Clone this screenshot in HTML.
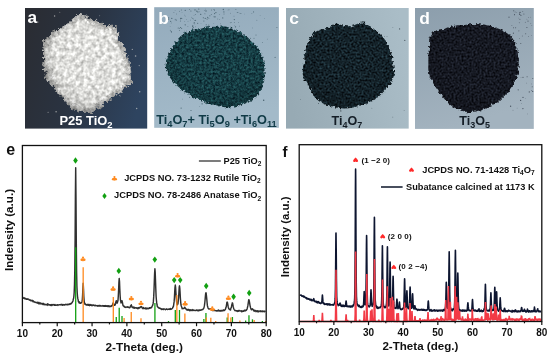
<!DOCTYPE html>
<html><head><meta charset="utf-8"><style>
html,body{margin:0;padding:0;background:#fff;}
body{width:550px;height:358px;overflow:hidden;position:relative;font-family:"Liberation Sans", sans-serif;}
svg{position:absolute;left:0;top:0;will-change:transform;}
</style></head><body>
<svg width="550" height="358" viewBox="0 0 550 358" font-family='"Liberation Sans", sans-serif'>
<defs>
 <filter id="texA" x="-5%" y="-5%" width="110%" height="110%" color-interpolation-filters="sRGB">
  <feTurbulence type="fractalNoise" baseFrequency="0.25" numOctaves="3" seed="2" result="t"/>
  <feColorMatrix in="t" type="matrix" values="0.6 0 0 0 0.5784  0.6 0 0 0 0.5784  0.6 0 0 0 0.5667  0 0 0 0 1" result="c"/>
  <feComposite in="c" in2="SourceAlpha" operator="in"/>
</filter>
<filter id="texB" x="-5%" y="-5%" width="110%" height="110%" color-interpolation-filters="sRGB">
  <feTurbulence type="fractalNoise" baseFrequency="0.45" numOctaves="2" seed="5" result="t"/>
  <feColorMatrix in="t" type="matrix" values="0.22 0 0 0 -0.0237  0.45 0 0 0 0.0142  0.42 0 0 0 0.0567  0 0 0 0 1" result="c"/>
  <feComposite in="c" in2="SourceAlpha" operator="in"/>
</filter>
<filter id="texC" x="-5%" y="-5%" width="110%" height="110%" color-interpolation-filters="sRGB">
  <feTurbulence type="fractalNoise" baseFrequency="0.5" numOctaves="2" seed="7" result="t"/>
  <feColorMatrix in="t" type="matrix" values="0.25 0 0 0 -0.0466  0.4 0 0 0 -0.0667  0.45 0 0 0 -0.0642  0 0 0 0 1" result="c"/>
  <feComposite in="c" in2="SourceAlpha" operator="in"/>
</filter>
<filter id="texD" x="-5%" y="-5%" width="110%" height="110%" color-interpolation-filters="sRGB">
  <feTurbulence type="fractalNoise" baseFrequency="0.5" numOctaves="2" seed="9" result="t"/>
  <feColorMatrix in="t" type="matrix" values="0.25 0 0 0 -0.0387  0.28 0 0 0 -0.0420  0.34 0 0 0 -0.0367  0 0 0 0 1" result="c"/>
  <feComposite in="c" in2="SourceAlpha" operator="in"/>
</filter>
<filter id="texBgA" x="-5%" y="-5%" width="110%" height="110%" color-interpolation-filters="sRGB">
  <feTurbulence type="fractalNoise" baseFrequency="0.05" numOctaves="2" seed="11" result="t"/>
  <feColorMatrix in="t" type="matrix" values="0.15 0 0 0 0.0975  0.15 0 0 0 0.1211  0.18 0 0 0 0.1531  0 0 0 0 1" result="c"/>
  <feComposite in="c" in2="SourceAlpha" operator="in"/>
</filter>
<filter id="roughA" x="-10%" y="-10%" width="120%" height="120%" color-interpolation-filters="sRGB">
  <feTurbulence type="fractalNoise" baseFrequency="0.12" numOctaves="2" seed="24" result="ln"/>
  <feDisplacementMap in="SourceGraphic" in2="ln" scale="9" xChannelSelector="R" yChannelSelector="G" result="d1"/>
  <feTurbulence type="fractalNoise" baseFrequency="0.45" numOctaves="3" seed="4" result="n"/>
  <feDisplacementMap in="d1" in2="n" scale="5" xChannelSelector="R" yChannelSelector="G"/>
</filter>
<filter id="roughB" x="-10%" y="-10%" width="120%" height="120%" color-interpolation-filters="sRGB">
  <feTurbulence type="fractalNoise" baseFrequency="0.35" numOctaves="3" seed="6" result="n"/>
  <feDisplacementMap in="SourceGraphic" in2="n" scale="5" xChannelSelector="R" yChannelSelector="G"/>
</filter>
<filter id="roughC" x="-10%" y="-10%" width="120%" height="120%" color-interpolation-filters="sRGB">
  <feTurbulence type="fractalNoise" baseFrequency="0.35" numOctaves="3" seed="8" result="n"/>
  <feDisplacementMap in="SourceGraphic" in2="n" scale="5" xChannelSelector="R" yChannelSelector="G"/>
</filter>
<filter id="roughD" x="-10%" y="-10%" width="120%" height="120%" color-interpolation-filters="sRGB">
  <feTurbulence type="fractalNoise" baseFrequency="0.35" numOctaves="3" seed="10" result="n"/>
  <feDisplacementMap in="SourceGraphic" in2="n" scale="5" xChannelSelector="R" yChannelSelector="G"/>
</filter>
<linearGradient id="bgA" x1="0" y1="0.3" x2="1" y2="0.6"><stop offset="0" stop-color="#2a2d34"/><stop offset="0.45" stop-color="#2a3341"/><stop offset="1" stop-color="#2e4460"/></linearGradient>
<linearGradient id="bgB" x1="0" y1="0" x2="0.2" y2="1"><stop offset="0" stop-color="#94abbc"/><stop offset="1" stop-color="#a3bac9"/></linearGradient>
<linearGradient id="bgC" x1="0" y1="0.6" x2="1" y2="0.4"><stop offset="0" stop-color="#97aab4"/><stop offset="1" stop-color="#aabdc7"/></linearGradient>
<linearGradient id="bgD" x1="0" y1="0" x2="0.3" y2="1"><stop offset="0" stop-color="#8c9eac"/><stop offset="1" stop-color="#a3b3bf"/></linearGradient>
<filter id="blur2" x="-10%" y="-10%" width="120%" height="120%"><feGaussianBlur stdDeviation="1.8"/></filter>
<radialGradient id="shA" cx="0.6" cy="0.35" r="0.7"><stop offset="0.6" stop-color="#000" stop-opacity="0"/><stop offset="1" stop-color="#000" stop-opacity="0.15"/></radialGradient>
<radialGradient id="shDark" cx="0.55" cy="0.4" r="0.7"><stop offset="0.55" stop-color="#000" stop-opacity="0"/><stop offset="1" stop-color="#000" stop-opacity="0.18"/></radialGradient>
</defs>
<rect x="25" y="8" width="122.2" height="120.6" fill="url(#bgA)"/>
<clipPath id="clipA"><rect x="25" y="8" width="122.2" height="120.6"/></clipPath>
<g clip-path="url(#clipA)">
<g fill="#cfcfcd" opacity="0.7"><circle cx="52.3" cy="86.5" r="0.62"/><circle cx="85.3" cy="35.3" r="0.70"/><circle cx="119.8" cy="67.3" r="0.55"/><circle cx="59.8" cy="12.3" r="0.49"/><circle cx="96.5" cy="19.5" r="0.70"/><circle cx="59.4" cy="37.1" r="0.32"/><circle cx="139.7" cy="91.8" r="0.74"/><circle cx="99.7" cy="15.7" r="0.46"/><circle cx="87.2" cy="24.5" r="0.78"/><circle cx="73.7" cy="28.7" r="0.71"/><circle cx="48.1" cy="112.2" r="0.53"/><circle cx="93.0" cy="49.0" r="0.54"/><circle cx="54.6" cy="16.0" r="0.73"/><circle cx="59.7" cy="96.3" r="0.40"/><circle cx="136.7" cy="108.5" r="0.68"/><circle cx="115.1" cy="74.7" r="0.66"/><circle cx="47.9" cy="63.4" r="0.71"/><circle cx="56.1" cy="111.7" r="0.74"/><circle cx="78.0" cy="51.4" r="0.53"/><circle cx="75.5" cy="119.4" r="0.49"/><circle cx="37.8" cy="22.1" r="0.66"/><circle cx="139.2" cy="65.6" r="0.55"/><circle cx="92.8" cy="92.8" r="0.41"/><circle cx="98.9" cy="72.1" r="0.61"/><circle cx="54.0" cy="30.4" r="0.47"/><circle cx="132.3" cy="49.4" r="0.60"/><circle cx="67.2" cy="23.2" r="0.33"/><circle cx="120.4" cy="95.9" r="0.49"/><circle cx="106.8" cy="85.0" r="0.75"/><circle cx="135.6" cy="56.0" r="0.79"/></g>
<clipPath id="pileA"><path d="M82.0,15.0 C84.8,14.8 87.8,16.2 90.0,17.0 C92.2,17.8 93.0,18.8 95.0,20.0 C97.0,21.2 99.5,23.2 101.8,24.2 C104.0,25.2 106.4,25.6 108.5,25.9 C110.6,26.2 112.6,25.5 114.3,25.9 C116.0,26.3 117.7,26.9 118.5,28.4 C119.3,29.9 119.1,33.0 119.4,35.1 C119.7,37.2 119.5,39.3 120.2,41.0 C120.9,42.7 122.5,43.7 123.5,45.2 C124.5,46.7 125.4,48.2 126.1,50.2 C126.8,52.2 127.2,54.7 127.7,56.9 C128.2,59.1 128.5,61.1 128.9,63.6 C129.3,66.1 129.8,68.7 130.2,71.7 C130.6,74.7 131.2,79.6 131.1,81.8 C131.0,84.0 130.4,83.8 129.4,85.1 C128.4,86.3 127.0,87.9 125.2,89.3 C123.4,90.7 120.7,92.0 118.5,93.5 C116.3,95.0 113.8,97.0 111.8,98.5 C109.8,100.0 108.5,101.3 106.8,102.7 C105.1,104.1 103.5,105.7 101.8,106.9 C100.1,108.2 98.4,109.2 96.7,110.2 C95.0,111.2 93.7,112.4 91.7,112.8 C89.8,113.2 87.5,113.2 85.0,112.8 C82.5,112.4 79.2,111.2 76.9,110.2 C74.6,109.2 72.8,108.2 71.0,106.9 C69.2,105.7 67.5,104.1 66.0,102.7 C64.5,101.3 63.5,100.3 61.8,98.5 C60.1,96.7 57.8,94.0 56.0,91.8 C54.2,89.6 52.3,87.3 50.9,85.1 C49.5,82.9 48.6,80.6 47.6,78.4 C46.6,76.2 45.7,73.9 45.0,71.7 C44.3,69.5 43.5,66.9 43.4,65.0 C43.3,63.1 44.2,62.2 44.2,60.3 C44.2,58.4 43.7,55.8 43.4,53.6 C43.1,51.4 42.4,48.7 42.5,46.9 C42.6,45.1 43.2,44.2 44.2,42.7 C45.2,41.2 46.9,39.5 48.4,37.7 C49.9,35.9 51.7,33.4 53.4,31.8 C55.1,30.2 56.8,29.4 58.5,28.4 C60.2,27.4 61.8,26.9 63.5,25.9 C65.2,24.9 66.8,23.9 68.5,22.6 C70.2,21.4 71.2,19.7 73.5,18.4 C75.8,17.1 79.2,15.2 82.0,15.0 Z"/></clipPath>
<g filter="url(#texA)"><path d="M82.0,15.0 C84.8,14.8 87.8,16.2 90.0,17.0 C92.2,17.8 93.0,18.8 95.0,20.0 C97.0,21.2 99.5,23.2 101.8,24.2 C104.0,25.2 106.4,25.6 108.5,25.9 C110.6,26.2 112.6,25.5 114.3,25.9 C116.0,26.3 117.7,26.9 118.5,28.4 C119.3,29.9 119.1,33.0 119.4,35.1 C119.7,37.2 119.5,39.3 120.2,41.0 C120.9,42.7 122.5,43.7 123.5,45.2 C124.5,46.7 125.4,48.2 126.1,50.2 C126.8,52.2 127.2,54.7 127.7,56.9 C128.2,59.1 128.5,61.1 128.9,63.6 C129.3,66.1 129.8,68.7 130.2,71.7 C130.6,74.7 131.2,79.6 131.1,81.8 C131.0,84.0 130.4,83.8 129.4,85.1 C128.4,86.3 127.0,87.9 125.2,89.3 C123.4,90.7 120.7,92.0 118.5,93.5 C116.3,95.0 113.8,97.0 111.8,98.5 C109.8,100.0 108.5,101.3 106.8,102.7 C105.1,104.1 103.5,105.7 101.8,106.9 C100.1,108.2 98.4,109.2 96.7,110.2 C95.0,111.2 93.7,112.4 91.7,112.8 C89.8,113.2 87.5,113.2 85.0,112.8 C82.5,112.4 79.2,111.2 76.9,110.2 C74.6,109.2 72.8,108.2 71.0,106.9 C69.2,105.7 67.5,104.1 66.0,102.7 C64.5,101.3 63.5,100.3 61.8,98.5 C60.1,96.7 57.8,94.0 56.0,91.8 C54.2,89.6 52.3,87.3 50.9,85.1 C49.5,82.9 48.6,80.6 47.6,78.4 C46.6,76.2 45.7,73.9 45.0,71.7 C44.3,69.5 43.5,66.9 43.4,65.0 C43.3,63.1 44.2,62.2 44.2,60.3 C44.2,58.4 43.7,55.8 43.4,53.6 C43.1,51.4 42.4,48.7 42.5,46.9 C42.6,45.1 43.2,44.2 44.2,42.7 C45.2,41.2 46.9,39.5 48.4,37.7 C49.9,35.9 51.7,33.4 53.4,31.8 C55.1,30.2 56.8,29.4 58.5,28.4 C60.2,27.4 61.8,26.9 63.5,25.9 C65.2,24.9 66.8,23.9 68.5,22.6 C70.2,21.4 71.2,19.7 73.5,18.4 C75.8,17.1 79.2,15.2 82.0,15.0 Z" fill="#000" filter="url(#roughA)"/></g>
<g filter="url(#roughA)"><path d="M82.0,15.0 C84.8,14.8 87.8,16.2 90.0,17.0 C92.2,17.8 93.0,18.8 95.0,20.0 C97.0,21.2 99.5,23.2 101.8,24.2 C104.0,25.2 106.4,25.6 108.5,25.9 C110.6,26.2 112.6,25.5 114.3,25.9 C116.0,26.3 117.7,26.9 118.5,28.4 C119.3,29.9 119.1,33.0 119.4,35.1 C119.7,37.2 119.5,39.3 120.2,41.0 C120.9,42.7 122.5,43.7 123.5,45.2 C124.5,46.7 125.4,48.2 126.1,50.2 C126.8,52.2 127.2,54.7 127.7,56.9 C128.2,59.1 128.5,61.1 128.9,63.6 C129.3,66.1 129.8,68.7 130.2,71.7 C130.6,74.7 131.2,79.6 131.1,81.8 C131.0,84.0 130.4,83.8 129.4,85.1 C128.4,86.3 127.0,87.9 125.2,89.3 C123.4,90.7 120.7,92.0 118.5,93.5 C116.3,95.0 113.8,97.0 111.8,98.5 C109.8,100.0 108.5,101.3 106.8,102.7 C105.1,104.1 103.5,105.7 101.8,106.9 C100.1,108.2 98.4,109.2 96.7,110.2 C95.0,111.2 93.7,112.4 91.7,112.8 C89.8,113.2 87.5,113.2 85.0,112.8 C82.5,112.4 79.2,111.2 76.9,110.2 C74.6,109.2 72.8,108.2 71.0,106.9 C69.2,105.7 67.5,104.1 66.0,102.7 C64.5,101.3 63.5,100.3 61.8,98.5 C60.1,96.7 57.8,94.0 56.0,91.8 C54.2,89.6 52.3,87.3 50.9,85.1 C49.5,82.9 48.6,80.6 47.6,78.4 C46.6,76.2 45.7,73.9 45.0,71.7 C44.3,69.5 43.5,66.9 43.4,65.0 C43.3,63.1 44.2,62.2 44.2,60.3 C44.2,58.4 43.7,55.8 43.4,53.6 C43.1,51.4 42.4,48.7 42.5,46.9 C42.6,45.1 43.2,44.2 44.2,42.7 C45.2,41.2 46.9,39.5 48.4,37.7 C49.9,35.9 51.7,33.4 53.4,31.8 C55.1,30.2 56.8,29.4 58.5,28.4 C60.2,27.4 61.8,26.9 63.5,25.9 C65.2,24.9 66.8,23.9 68.5,22.6 C70.2,21.4 71.2,19.7 73.5,18.4 C75.8,17.1 79.2,15.2 82.0,15.0 Z" fill="url(#shA)"/><path d="M82.0,15.0 C84.8,14.8 87.8,16.2 90.0,17.0 C92.2,17.8 93.0,18.8 95.0,20.0 C97.0,21.2 99.5,23.2 101.8,24.2 C104.0,25.2 106.4,25.6 108.5,25.9 C110.6,26.2 112.6,25.5 114.3,25.9 C116.0,26.3 117.7,26.9 118.5,28.4 C119.3,29.9 119.1,33.0 119.4,35.1 C119.7,37.2 119.5,39.3 120.2,41.0 C120.9,42.7 122.5,43.7 123.5,45.2 C124.5,46.7 125.4,48.2 126.1,50.2 C126.8,52.2 127.2,54.7 127.7,56.9 C128.2,59.1 128.5,61.1 128.9,63.6 C129.3,66.1 129.8,68.7 130.2,71.7 C130.6,74.7 131.2,79.6 131.1,81.8 C131.0,84.0 130.4,83.8 129.4,85.1 C128.4,86.3 127.0,87.9 125.2,89.3 C123.4,90.7 120.7,92.0 118.5,93.5 C116.3,95.0 113.8,97.0 111.8,98.5 C109.8,100.0 108.5,101.3 106.8,102.7 C105.1,104.1 103.5,105.7 101.8,106.9 C100.1,108.2 98.4,109.2 96.7,110.2 C95.0,111.2 93.7,112.4 91.7,112.8 C89.8,113.2 87.5,113.2 85.0,112.8 C82.5,112.4 79.2,111.2 76.9,110.2 C74.6,109.2 72.8,108.2 71.0,106.9 C69.2,105.7 67.5,104.1 66.0,102.7 C64.5,101.3 63.5,100.3 61.8,98.5 C60.1,96.7 57.8,94.0 56.0,91.8 C54.2,89.6 52.3,87.3 50.9,85.1 C49.5,82.9 48.6,80.6 47.6,78.4 C46.6,76.2 45.7,73.9 45.0,71.7 C44.3,69.5 43.5,66.9 43.4,65.0 C43.3,63.1 44.2,62.2 44.2,60.3 C44.2,58.4 43.7,55.8 43.4,53.6 C43.1,51.4 42.4,48.7 42.5,46.9 C42.6,45.1 43.2,44.2 44.2,42.7 C45.2,41.2 46.9,39.5 48.4,37.7 C49.9,35.9 51.7,33.4 53.4,31.8 C55.1,30.2 56.8,29.4 58.5,28.4 C60.2,27.4 61.8,26.9 63.5,25.9 C65.2,24.9 66.8,23.9 68.5,22.6 C70.2,21.4 71.2,19.7 73.5,18.4 C75.8,17.1 79.2,15.2 82.0,15.0 Z" fill="none" stroke="#202020" stroke-opacity="0.28" stroke-width="7" clip-path="url(#pileA)" filter="url(#blur2)"/></g>
</g>
<rect x="154.2" y="7.2" width="124.7" height="120.6" fill="url(#bgB)"/>
<clipPath id="clipB"><rect x="154.2" y="7.2" width="124.7" height="120.6"/></clipPath>
<g clip-path="url(#clipB)">
<g fill="#3a5562" opacity="0.85"><circle cx="237.0" cy="12.2" r="0.31"/><circle cx="239.9" cy="13.2" r="0.34"/><circle cx="214.9" cy="16.9" r="0.61"/><circle cx="184.7" cy="31.1" r="0.41"/><circle cx="211.3" cy="30.4" r="0.54"/><circle cx="234.5" cy="25.3" r="0.32"/><circle cx="231.5" cy="22.6" r="0.41"/><circle cx="181.7" cy="28.5" r="0.50"/><circle cx="235.5" cy="26.8" r="0.64"/><circle cx="208.8" cy="25.1" r="0.51"/><circle cx="186.6" cy="31.0" r="0.41"/><circle cx="224.2" cy="31.0" r="0.53"/><circle cx="178.2" cy="28.0" r="0.53"/><circle cx="181.3" cy="10.1" r="0.49"/><circle cx="170.3" cy="30.3" r="0.48"/><circle cx="205.2" cy="18.4" r="0.53"/><circle cx="234.0" cy="16.1" r="0.43"/><circle cx="209.9" cy="15.8" r="0.51"/><circle cx="207.1" cy="19.0" r="0.54"/><circle cx="206.0" cy="11.0" r="0.65"/><circle cx="193.6" cy="18.9" r="0.44"/><circle cx="234.9" cy="30.9" r="0.48"/><circle cx="196.8" cy="11.2" r="0.61"/><circle cx="180.3" cy="21.6" r="0.42"/><circle cx="191.6" cy="17.2" r="0.37"/><circle cx="170.7" cy="21.3" r="0.58"/><circle cx="214.6" cy="13.6" r="0.54"/><circle cx="171.8" cy="18.4" r="0.59"/><circle cx="234.3" cy="19.6" r="0.60"/><circle cx="203.9" cy="21.1" r="0.50"/><circle cx="239.4" cy="26.1" r="0.47"/><circle cx="220.4" cy="23.8" r="0.42"/><circle cx="224.5" cy="27.9" r="0.51"/><circle cx="235.9" cy="9.4" r="0.48"/><circle cx="213.7" cy="16.8" r="0.36"/><circle cx="217.8" cy="19.0" r="0.39"/><circle cx="171.0" cy="31.2" r="0.42"/><circle cx="176.5" cy="14.0" r="0.39"/><circle cx="230.4" cy="13.2" r="0.40"/><circle cx="175.0" cy="19.8" r="0.37"/><circle cx="192.8" cy="25.9" r="0.62"/><circle cx="228.1" cy="9.9" r="0.43"/><circle cx="229.1" cy="9.8" r="0.37"/><circle cx="203.3" cy="17.8" r="0.56"/><circle cx="219.7" cy="19.7" r="0.39"/><circle cx="184.6" cy="15.1" r="0.32"/><circle cx="215.9" cy="12.6" r="0.61"/><circle cx="214.5" cy="10.3" r="0.47"/><circle cx="211.5" cy="10.0" r="0.47"/><circle cx="170.1" cy="26.6" r="0.30"/><circle cx="213.5" cy="31.7" r="0.60"/><circle cx="184.8" cy="21.3" r="0.35"/><circle cx="192.6" cy="28.9" r="0.59"/><circle cx="168.7" cy="17.7" r="0.52"/><circle cx="180.6" cy="27.5" r="0.61"/><circle cx="207.7" cy="17.3" r="0.60"/><circle cx="204.9" cy="13.3" r="0.40"/><circle cx="179.5" cy="28.3" r="0.48"/><circle cx="218.2" cy="27.8" r="0.64"/><circle cx="181.7" cy="18.3" r="0.61"/><circle cx="222.8" cy="17.9" r="0.53"/><circle cx="182.0" cy="12.7" r="0.32"/><circle cx="195.3" cy="14.4" r="0.48"/><circle cx="237.8" cy="12.5" r="0.50"/><circle cx="230.3" cy="22.8" r="0.48"/><circle cx="223.3" cy="9.5" r="0.63"/><circle cx="217.4" cy="27.6" r="0.59"/><circle cx="175.1" cy="10.5" r="0.36"/><circle cx="204.3" cy="30.6" r="0.62"/><circle cx="197.7" cy="23.3" r="0.56"/><circle cx="191.9" cy="31.3" r="0.63"/><circle cx="220.3" cy="29.7" r="0.58"/><circle cx="215.0" cy="16.4" r="0.40"/><circle cx="185.2" cy="10.3" r="0.62"/><circle cx="189.5" cy="9.5" r="0.41"/><circle cx="175.4" cy="19.2" r="0.42"/><circle cx="180.6" cy="20.0" r="0.45"/><circle cx="193.5" cy="27.7" r="0.41"/><circle cx="207.0" cy="29.2" r="0.64"/><circle cx="195.0" cy="9.9" r="0.63"/><circle cx="205.0" cy="14.0" r="0.34"/><circle cx="185.2" cy="16.1" r="0.35"/><circle cx="171.5" cy="31.9" r="0.59"/><circle cx="176.2" cy="20.1" r="0.58"/><circle cx="204.3" cy="10.6" r="0.42"/><circle cx="195.4" cy="30.0" r="0.50"/><circle cx="201.0" cy="23.5" r="0.32"/><circle cx="217.4" cy="27.6" r="0.53"/><circle cx="194.0" cy="15.6" r="0.30"/><circle cx="173.9" cy="12.6" r="0.46"/><circle cx="224.0" cy="14.0" r="0.47"/><circle cx="213.8" cy="23.5" r="0.31"/><circle cx="234.3" cy="22.5" r="0.41"/><circle cx="185.2" cy="24.8" r="0.63"/><circle cx="192.3" cy="18.2" r="0.49"/><circle cx="180.6" cy="18.3" r="0.62"/><circle cx="208.1" cy="27.9" r="0.39"/><circle cx="230.5" cy="27.0" r="0.38"/><circle cx="206.2" cy="24.7" r="0.50"/><circle cx="211.3" cy="14.5" r="0.49"/><circle cx="193.5" cy="27.4" r="0.43"/><circle cx="238.5" cy="22.4" r="0.38"/><circle cx="197.9" cy="11.9" r="0.56"/><circle cx="171.3" cy="22.9" r="0.41"/><circle cx="223.9" cy="11.9" r="0.54"/><circle cx="219.4" cy="14.4" r="0.35"/><circle cx="194.8" cy="23.9" r="0.39"/><circle cx="168.6" cy="19.2" r="0.58"/><circle cx="179.4" cy="30.6" r="0.48"/><circle cx="179.6" cy="11.3" r="0.43"/></g>
<g fill="#3a5562" opacity="0.8"><circle cx="204.5" cy="30.7" r="0.59"/><circle cx="190.9" cy="11.0" r="0.55"/><circle cx="195.0" cy="20.5" r="0.54"/><circle cx="190.5" cy="37.2" r="0.45"/><circle cx="187.1" cy="37.5" r="0.47"/><circle cx="187.4" cy="35.0" r="0.53"/><circle cx="207.2" cy="29.4" r="0.60"/><circle cx="185.4" cy="39.2" r="0.49"/><circle cx="192.6" cy="28.0" r="0.40"/><circle cx="204.5" cy="30.8" r="0.46"/><circle cx="188.0" cy="21.2" r="0.39"/><circle cx="207.5" cy="37.9" r="0.53"/><circle cx="200.9" cy="14.3" r="0.51"/><circle cx="193.0" cy="39.9" r="0.35"/><circle cx="214.0" cy="9.5" r="0.53"/><circle cx="195.4" cy="26.8" r="0.42"/><circle cx="194.2" cy="22.6" r="0.54"/><circle cx="195.6" cy="20.2" r="0.53"/><circle cx="190.3" cy="20.1" r="0.45"/><circle cx="200.5" cy="14.3" r="0.53"/><circle cx="199.7" cy="11.8" r="0.40"/><circle cx="186.7" cy="19.7" r="0.33"/><circle cx="192.6" cy="26.2" r="0.51"/><circle cx="194.0" cy="23.4" r="0.45"/><circle cx="202.6" cy="37.1" r="0.36"/><circle cx="208.2" cy="26.2" r="0.57"/><circle cx="205.6" cy="9.1" r="0.32"/><circle cx="208.9" cy="18.2" r="0.48"/><circle cx="187.9" cy="26.4" r="0.42"/><circle cx="198.8" cy="9.1" r="0.57"/></g>
<g fill="#3a5562" opacity="0.7"><circle cx="275.1" cy="57.4" r="0.57"/><circle cx="243.2" cy="39.2" r="0.43"/><circle cx="260.1" cy="15.6" r="0.36"/><circle cx="256.9" cy="20.3" r="0.44"/><circle cx="240.9" cy="13.4" r="0.51"/><circle cx="256.0" cy="35.1" r="0.52"/><circle cx="253.6" cy="11.9" r="0.53"/><circle cx="262.4" cy="42.6" r="0.49"/><circle cx="276.9" cy="27.5" r="0.53"/><circle cx="254.0" cy="38.2" r="0.50"/><circle cx="251.9" cy="13.4" r="0.44"/><circle cx="267.3" cy="39.1" r="0.43"/><circle cx="264.4" cy="18.3" r="0.35"/><circle cx="252.3" cy="50.6" r="0.36"/><circle cx="244.3" cy="14.0" r="0.31"/><circle cx="250.5" cy="38.2" r="0.55"/><circle cx="252.6" cy="27.9" r="0.39"/><circle cx="251.6" cy="48.7" r="0.46"/></g>
<g fill="#2a4550" opacity="0.8"><circle cx="189.6" cy="97.2" r="0.54"/><circle cx="195.1" cy="97.3" r="0.49"/><circle cx="215.5" cy="98.6" r="0.46"/><circle cx="251.6" cy="97.2" r="0.38"/><circle cx="182.4" cy="99.1" r="0.34"/><circle cx="263.7" cy="100.3" r="0.70"/><circle cx="191.0" cy="110.4" r="0.50"/><circle cx="238.7" cy="106.3" r="0.41"/><circle cx="199.8" cy="106.6" r="0.35"/><circle cx="181.1" cy="108.1" r="0.55"/><circle cx="202.1" cy="103.8" r="0.66"/><circle cx="203.7" cy="97.1" r="0.47"/></g>
<g filter="url(#texB)"><path d="M220.0,26.7 C221.9,26.7 224.5,26.3 226.7,26.7 C228.9,27.1 231.2,28.2 233.4,29.2 C235.6,30.2 237.9,31.3 240.1,32.6 C242.3,33.9 244.7,35.3 246.8,36.8 C248.9,38.3 250.9,40.0 252.7,41.8 C254.5,43.6 256.3,45.8 257.7,47.7 C259.1,49.7 260.2,51.4 261.1,53.5 C262.0,55.6 262.6,58.0 263.2,60.2 C263.8,62.4 264.2,64.7 264.4,66.9 C264.6,69.1 264.6,72.0 264.6,73.6 C264.6,75.2 264.6,75.1 264.4,76.7 C264.2,78.3 264.2,81.2 263.6,83.4 C263.1,85.6 262.2,88.0 261.1,90.1 C260.0,92.2 258.6,94.3 256.9,96.0 C255.2,97.7 253.1,99.0 251.0,100.2 C248.9,101.5 246.7,102.5 244.3,103.5 C241.9,104.5 239.2,105.4 236.8,106.0 C234.4,106.6 232.3,107.0 230.1,107.2 C227.9,107.4 225.9,107.3 223.4,106.9 C220.9,106.5 217.8,105.5 215.3,104.9 C212.8,104.3 210.8,104.2 208.6,103.5 C206.4,102.8 204.1,102.0 201.9,101.0 C199.7,100.0 197.3,98.8 195.2,97.7 C193.1,96.6 191.2,95.4 189.3,94.3 C187.4,93.2 185.3,92.2 183.5,90.9 C181.7,89.7 179.8,88.0 178.4,86.8 C177.0,85.6 176.2,85.3 175.0,84.0 C173.8,82.7 172.2,80.7 171.0,79.0 C169.8,77.3 168.8,75.7 168.0,74.0 C167.2,72.3 166.3,71.0 166.0,69.0 C165.7,67.0 165.7,64.3 166.0,62.0 C166.3,59.7 167.2,57.2 168.0,55.0 C168.8,52.8 170.0,50.8 171.0,49.0 C172.0,47.2 173.0,46.1 174.2,44.3 C175.4,42.5 176.9,40.1 178.4,38.4 C179.9,36.7 181.5,35.3 183.4,34.2 C185.3,33.1 187.6,32.5 190.1,31.7 C192.6,30.9 195.7,29.9 198.5,29.2 C201.3,28.5 204.1,27.9 206.9,27.5 C209.7,27.1 213.1,26.8 215.3,26.7 C217.5,26.6 218.1,26.7 220.0,26.7 Z" fill="#000" filter="url(#roughB)"/></g>
<g filter="url(#roughB)"><path d="M220.0,26.7 C221.9,26.7 224.5,26.3 226.7,26.7 C228.9,27.1 231.2,28.2 233.4,29.2 C235.6,30.2 237.9,31.3 240.1,32.6 C242.3,33.9 244.7,35.3 246.8,36.8 C248.9,38.3 250.9,40.0 252.7,41.8 C254.5,43.6 256.3,45.8 257.7,47.7 C259.1,49.7 260.2,51.4 261.1,53.5 C262.0,55.6 262.6,58.0 263.2,60.2 C263.8,62.4 264.2,64.7 264.4,66.9 C264.6,69.1 264.6,72.0 264.6,73.6 C264.6,75.2 264.6,75.1 264.4,76.7 C264.2,78.3 264.2,81.2 263.6,83.4 C263.1,85.6 262.2,88.0 261.1,90.1 C260.0,92.2 258.6,94.3 256.9,96.0 C255.2,97.7 253.1,99.0 251.0,100.2 C248.9,101.5 246.7,102.5 244.3,103.5 C241.9,104.5 239.2,105.4 236.8,106.0 C234.4,106.6 232.3,107.0 230.1,107.2 C227.9,107.4 225.9,107.3 223.4,106.9 C220.9,106.5 217.8,105.5 215.3,104.9 C212.8,104.3 210.8,104.2 208.6,103.5 C206.4,102.8 204.1,102.0 201.9,101.0 C199.7,100.0 197.3,98.8 195.2,97.7 C193.1,96.6 191.2,95.4 189.3,94.3 C187.4,93.2 185.3,92.2 183.5,90.9 C181.7,89.7 179.8,88.0 178.4,86.8 C177.0,85.6 176.2,85.3 175.0,84.0 C173.8,82.7 172.2,80.7 171.0,79.0 C169.8,77.3 168.8,75.7 168.0,74.0 C167.2,72.3 166.3,71.0 166.0,69.0 C165.7,67.0 165.7,64.3 166.0,62.0 C166.3,59.7 167.2,57.2 168.0,55.0 C168.8,52.8 170.0,50.8 171.0,49.0 C172.0,47.2 173.0,46.1 174.2,44.3 C175.4,42.5 176.9,40.1 178.4,38.4 C179.9,36.7 181.5,35.3 183.4,34.2 C185.3,33.1 187.6,32.5 190.1,31.7 C192.6,30.9 195.7,29.9 198.5,29.2 C201.3,28.5 204.1,27.9 206.9,27.5 C209.7,27.1 213.1,26.8 215.3,26.7 C217.5,26.6 218.1,26.7 220.0,26.7 Z" fill="url(#shDark)"/></g>
</g>
<rect x="286" y="8" width="122.7" height="120.6" fill="url(#bgC)"/>
<clipPath id="clipC"><rect x="286" y="8" width="122.7" height="120.6"/></clipPath>
<g clip-path="url(#clipC)">
<g fill="#1e2a33" opacity="0.7"><circle cx="371.9" cy="108.2" r="0.37"/><circle cx="404.8" cy="40.4" r="0.57"/><circle cx="300.6" cy="99.6" r="0.36"/><circle cx="371.3" cy="96.1" r="0.61"/><circle cx="340.8" cy="110.9" r="0.70"/><circle cx="303.3" cy="74.3" r="0.68"/><circle cx="375.0" cy="66.6" r="0.42"/><circle cx="399.6" cy="28.9" r="0.60"/><circle cx="387.0" cy="36.6" r="0.43"/><circle cx="325.1" cy="76.9" r="0.45"/><circle cx="392.8" cy="117.1" r="0.43"/><circle cx="392.9" cy="27.3" r="0.34"/><circle cx="366.5" cy="103.9" r="0.63"/><circle cx="404.1" cy="110.3" r="0.41"/></g>
<g filter="url(#texC)"><path d="M358.4,23.4 C360.3,22.8 361.7,22.2 363.4,22.5 C365.1,22.8 366.7,24.0 368.5,25.1 C370.3,26.2 372.4,27.7 374.3,29.2 C376.2,30.7 378.4,32.5 380.2,34.3 C382.0,36.1 383.8,38.0 385.2,40.1 C386.6,42.2 387.6,44.6 388.6,46.8 C389.6,49.0 390.4,51.3 391.1,53.5 C391.8,55.7 392.4,58.0 392.8,60.2 C393.2,62.5 393.4,64.9 393.6,67.0 C393.8,69.1 394.2,71.4 394.2,73.0 C394.2,74.6 394.3,75.0 393.6,76.7 C392.9,78.4 391.6,81.2 390.2,83.4 C388.8,85.6 387.1,87.9 385.2,90.1 C383.2,92.3 380.7,95.0 378.5,96.8 C376.3,98.6 374.0,99.9 371.8,101.0 C369.6,102.1 367.3,102.7 365.1,103.5 C362.9,104.3 360.6,105.3 358.4,106.0 C356.2,106.7 353.9,107.3 351.7,107.7 C349.5,108.1 347.2,108.5 345.0,108.5 C342.8,108.5 341.1,108.1 338.6,107.7 C336.1,107.3 333.0,106.8 330.2,106.0 C327.4,105.2 324.3,104.1 321.8,102.7 C319.3,101.3 316.9,99.8 315.1,97.7 C313.3,95.6 312.3,92.5 310.9,90.1 C309.5,87.7 307.9,85.6 306.7,83.4 C305.4,81.2 304.0,78.9 303.4,76.7 C302.8,74.5 302.7,72.5 302.8,70.0 C302.9,67.5 303.9,64.3 304.2,62.0 C304.5,59.7 304.4,57.7 304.5,56.0 C304.6,54.3 304.8,53.5 305.1,51.9 C305.4,50.3 305.8,48.6 306.5,46.5 C307.2,44.4 308.2,41.8 309.5,39.5 C310.8,37.2 312.4,34.2 314.5,32.5 C316.6,30.8 319.5,30.0 321.8,29.2 C324.1,28.4 326.4,28.4 328.5,27.6 C330.6,26.8 332.6,24.8 334.4,24.2 C336.2,23.6 337.6,23.9 339.4,24.2 C341.2,24.5 343.2,25.6 345.3,25.9 C347.4,26.2 349.5,26.3 351.7,25.9 C353.9,25.5 356.4,24.0 358.4,23.4 Z" fill="#000" filter="url(#roughC)"/></g>
<g filter="url(#roughC)"><path d="M358.4,23.4 C360.3,22.8 361.7,22.2 363.4,22.5 C365.1,22.8 366.7,24.0 368.5,25.1 C370.3,26.2 372.4,27.7 374.3,29.2 C376.2,30.7 378.4,32.5 380.2,34.3 C382.0,36.1 383.8,38.0 385.2,40.1 C386.6,42.2 387.6,44.6 388.6,46.8 C389.6,49.0 390.4,51.3 391.1,53.5 C391.8,55.7 392.4,58.0 392.8,60.2 C393.2,62.5 393.4,64.9 393.6,67.0 C393.8,69.1 394.2,71.4 394.2,73.0 C394.2,74.6 394.3,75.0 393.6,76.7 C392.9,78.4 391.6,81.2 390.2,83.4 C388.8,85.6 387.1,87.9 385.2,90.1 C383.2,92.3 380.7,95.0 378.5,96.8 C376.3,98.6 374.0,99.9 371.8,101.0 C369.6,102.1 367.3,102.7 365.1,103.5 C362.9,104.3 360.6,105.3 358.4,106.0 C356.2,106.7 353.9,107.3 351.7,107.7 C349.5,108.1 347.2,108.5 345.0,108.5 C342.8,108.5 341.1,108.1 338.6,107.7 C336.1,107.3 333.0,106.8 330.2,106.0 C327.4,105.2 324.3,104.1 321.8,102.7 C319.3,101.3 316.9,99.8 315.1,97.7 C313.3,95.6 312.3,92.5 310.9,90.1 C309.5,87.7 307.9,85.6 306.7,83.4 C305.4,81.2 304.0,78.9 303.4,76.7 C302.8,74.5 302.7,72.5 302.8,70.0 C302.9,67.5 303.9,64.3 304.2,62.0 C304.5,59.7 304.4,57.7 304.5,56.0 C304.6,54.3 304.8,53.5 305.1,51.9 C305.4,50.3 305.8,48.6 306.5,46.5 C307.2,44.4 308.2,41.8 309.5,39.5 C310.8,37.2 312.4,34.2 314.5,32.5 C316.6,30.8 319.5,30.0 321.8,29.2 C324.1,28.4 326.4,28.4 328.5,27.6 C330.6,26.8 332.6,24.8 334.4,24.2 C336.2,23.6 337.6,23.9 339.4,24.2 C341.2,24.5 343.2,25.6 345.3,25.9 C347.4,26.2 349.5,26.3 351.7,25.9 C353.9,25.5 356.4,24.0 358.4,23.4 Z" fill="url(#shDark)"/></g>
</g>
<rect x="415" y="8" width="118.8" height="120.9" fill="url(#bgD)"/>
<clipPath id="clipD"><rect x="415" y="8" width="118.8" height="120.9"/></clipPath>
<g clip-path="url(#clipD)">
<g fill="#3a4350" opacity="0.8"><circle cx="517.4" cy="48.9" r="0.60"/><circle cx="513.4" cy="46.6" r="0.52"/><circle cx="509.1" cy="50.0" r="0.39"/><circle cx="515.6" cy="27.8" r="0.51"/><circle cx="511.1" cy="38.8" r="0.59"/><circle cx="520.8" cy="43.4" r="0.52"/><circle cx="528.6" cy="17.6" r="0.43"/><circle cx="519.7" cy="14.4" r="0.64"/><circle cx="523.9" cy="14.1" r="0.50"/><circle cx="518.4" cy="18.0" r="0.36"/><circle cx="519.5" cy="13.0" r="0.50"/><circle cx="520.9" cy="15.3" r="0.61"/><circle cx="509.0" cy="17.2" r="0.59"/><circle cx="513.5" cy="27.8" r="0.50"/><circle cx="518.9" cy="30.8" r="0.48"/><circle cx="520.1" cy="12.4" r="0.59"/><circle cx="515.1" cy="12.0" r="0.44"/><circle cx="528.4" cy="36.4" r="0.46"/><circle cx="519.9" cy="19.2" r="0.52"/><circle cx="516.8" cy="12.7" r="0.35"/><circle cx="510.3" cy="38.7" r="0.61"/><circle cx="526.9" cy="19.2" r="0.35"/><circle cx="531.8" cy="25.7" r="0.36"/><circle cx="522.3" cy="36.0" r="0.49"/><circle cx="519.3" cy="22.8" r="0.47"/><circle cx="519.4" cy="38.6" r="0.46"/><circle cx="516.9" cy="51.4" r="0.34"/><circle cx="526.9" cy="27.5" r="0.58"/><circle cx="525.7" cy="33.8" r="0.51"/><circle cx="513.7" cy="10.7" r="0.56"/><circle cx="514.5" cy="14.7" r="0.58"/><circle cx="522.8" cy="11.4" r="0.48"/><circle cx="512.1" cy="46.3" r="0.39"/><circle cx="531.5" cy="35.7" r="0.33"/><circle cx="518.2" cy="50.6" r="0.55"/><circle cx="511.9" cy="25.5" r="0.40"/><circle cx="510.3" cy="34.9" r="0.54"/><circle cx="513.4" cy="33.2" r="0.60"/><circle cx="530.3" cy="17.2" r="0.33"/><circle cx="530.8" cy="23.7" r="0.36"/><circle cx="528.0" cy="21.1" r="0.55"/><circle cx="525.3" cy="22.3" r="0.46"/><circle cx="515.2" cy="43.9" r="0.40"/><circle cx="514.8" cy="46.0" r="0.40"/><circle cx="518.9" cy="31.7" r="0.30"/></g>
<g fill="#3a4350" opacity="0.8"><circle cx="526.7" cy="83.1" r="0.38"/><circle cx="523.0" cy="77.3" r="0.61"/><circle cx="527.1" cy="76.7" r="0.57"/><circle cx="520.6" cy="100.4" r="0.68"/><circle cx="532.7" cy="91.4" r="0.64"/><circle cx="527.7" cy="113.9" r="0.31"/><circle cx="531.4" cy="83.9" r="0.35"/><circle cx="522.9" cy="108.6" r="0.68"/><circle cx="517.1" cy="108.1" r="0.31"/><circle cx="532.2" cy="86.7" r="0.52"/><circle cx="511.1" cy="76.8" r="0.30"/><circle cx="523.0" cy="97.4" r="0.63"/><circle cx="529.3" cy="91.9" r="0.64"/><circle cx="513.0" cy="110.2" r="0.40"/><circle cx="531.5" cy="90.4" r="0.47"/><circle cx="521.0" cy="77.4" r="0.33"/><circle cx="521.6" cy="103.6" r="0.32"/><circle cx="518.2" cy="89.8" r="0.61"/><circle cx="532.8" cy="78.6" r="0.52"/><circle cx="510.6" cy="106.3" r="0.68"/><circle cx="525.7" cy="98.3" r="0.32"/><circle cx="510.4" cy="84.6" r="0.33"/></g>
<g filter="url(#texD)"><path d="M470.0,24.2 C472.8,24.0 475.6,24.0 478.4,24.2 C481.2,24.4 484.0,24.5 486.8,25.1 C489.6,25.7 492.3,26.6 495.1,27.6 C497.9,28.6 501.1,29.6 503.5,30.9 C505.9,32.1 507.7,33.6 509.4,35.1 C511.1,36.6 512.5,38.2 513.6,40.1 C514.7,42.0 515.4,44.6 516.1,46.8 C516.8,49.0 517.4,51.3 517.8,53.5 C518.2,55.7 518.5,58.0 518.6,60.2 C518.7,62.5 518.7,65.0 518.6,67.0 C518.5,69.0 518.6,70.4 518.3,72.0 C518.0,73.6 517.7,74.8 516.9,76.7 C516.1,78.6 514.9,81.2 513.6,83.4 C512.4,85.6 511.1,87.9 509.4,90.1 C507.7,92.3 505.6,94.7 503.5,96.8 C501.4,98.9 499.0,101.2 496.8,102.7 C494.6,104.2 492.3,104.9 490.1,106.0 C487.9,107.1 485.6,108.6 483.4,109.4 C481.2,110.2 478.9,110.6 476.7,111.1 C474.5,111.6 471.6,112.2 470.0,112.3 C468.4,112.4 468.5,112.2 466.9,111.9 C465.3,111.6 462.4,111.0 460.2,110.2 C458.0,109.4 455.6,108.2 453.5,106.9 C451.4,105.7 449.5,104.4 447.7,102.7 C445.9,101.0 444.3,98.9 442.6,96.8 C440.9,94.7 439.1,92.3 437.6,90.1 C436.1,87.9 434.6,85.6 433.4,83.4 C432.1,81.2 430.9,78.9 430.1,76.7 C429.3,74.5 428.7,72.2 428.4,70.0 C428.1,67.8 428.4,66.1 428.4,63.6 C428.4,61.1 428.3,58.0 428.4,55.2 C428.5,52.4 429.0,49.3 429.2,46.8 C429.4,44.3 428.8,42.3 429.3,40.1 C429.9,37.9 431.1,35.5 432.5,33.8 C433.9,32.1 435.3,30.9 437.4,30.0 C439.5,29.1 442.4,29.1 445.1,28.4 C447.8,27.7 450.7,26.4 453.5,25.9 C456.3,25.3 459.1,25.4 461.9,25.1 C464.6,24.8 467.2,24.4 470.0,24.2 Z" fill="#000" filter="url(#roughD)"/></g>
<g filter="url(#roughD)"><path d="M470.0,24.2 C472.8,24.0 475.6,24.0 478.4,24.2 C481.2,24.4 484.0,24.5 486.8,25.1 C489.6,25.7 492.3,26.6 495.1,27.6 C497.9,28.6 501.1,29.6 503.5,30.9 C505.9,32.1 507.7,33.6 509.4,35.1 C511.1,36.6 512.5,38.2 513.6,40.1 C514.7,42.0 515.4,44.6 516.1,46.8 C516.8,49.0 517.4,51.3 517.8,53.5 C518.2,55.7 518.5,58.0 518.6,60.2 C518.7,62.5 518.7,65.0 518.6,67.0 C518.5,69.0 518.6,70.4 518.3,72.0 C518.0,73.6 517.7,74.8 516.9,76.7 C516.1,78.6 514.9,81.2 513.6,83.4 C512.4,85.6 511.1,87.9 509.4,90.1 C507.7,92.3 505.6,94.7 503.5,96.8 C501.4,98.9 499.0,101.2 496.8,102.7 C494.6,104.2 492.3,104.9 490.1,106.0 C487.9,107.1 485.6,108.6 483.4,109.4 C481.2,110.2 478.9,110.6 476.7,111.1 C474.5,111.6 471.6,112.2 470.0,112.3 C468.4,112.4 468.5,112.2 466.9,111.9 C465.3,111.6 462.4,111.0 460.2,110.2 C458.0,109.4 455.6,108.2 453.5,106.9 C451.4,105.7 449.5,104.4 447.7,102.7 C445.9,101.0 444.3,98.9 442.6,96.8 C440.9,94.7 439.1,92.3 437.6,90.1 C436.1,87.9 434.6,85.6 433.4,83.4 C432.1,81.2 430.9,78.9 430.1,76.7 C429.3,74.5 428.7,72.2 428.4,70.0 C428.1,67.8 428.4,66.1 428.4,63.6 C428.4,61.1 428.3,58.0 428.4,55.2 C428.5,52.4 429.0,49.3 429.2,46.8 C429.4,44.3 428.8,42.3 429.3,40.1 C429.9,37.9 431.1,35.5 432.5,33.8 C433.9,32.1 435.3,30.9 437.4,30.0 C439.5,29.1 442.4,29.1 445.1,28.4 C447.8,27.7 450.7,26.4 453.5,25.9 C456.3,25.3 459.1,25.4 461.9,25.1 C464.6,24.8 467.2,24.4 470.0,24.2 Z" fill="url(#shDark)"/></g>
</g>

<!-- panel a -->
<text x="27.6" y="23.4" font-size="17.2" font-weight="bold" fill="#fff">a</text>
<text x="59.4" y="125.4" font-size="12.3" font-weight="bold" fill="#fff" textLength="53.2" lengthAdjust="spacingAndGlyphs">P25 TiO<tspan font-size="9" dy="2.7">2</tspan></text>

<!-- panel b -->
<text x="158.2" y="23.9" font-size="17.4" font-weight="bold" fill="#fff">b</text>
<text x="156.2" y="123.9" font-size="12.6" font-weight="bold" fill="#103a46" textLength="120.6" lengthAdjust="spacingAndGlyphs">Ti<tspan font-size="9.2" dy="2.8">4</tspan><tspan dy="-2.8">O</tspan><tspan font-size="9.2" dy="2.8">7</tspan><tspan dy="-2.8">+ Ti</tspan><tspan font-size="9.2" dy="2.8">5</tspan><tspan dy="-2.8">O</tspan><tspan font-size="9.2" dy="2.8">9</tspan><tspan dy="-2.8"> +Ti</tspan><tspan font-size="9.2" dy="2.8">6</tspan><tspan dy="-2.8">O</tspan><tspan font-size="9.2" dy="2.8">11</tspan></text>

<!-- panel c -->
<text x="289.3" y="23.9" font-size="17.4" font-weight="bold" fill="#fff">c</text>
<text x="331.6" y="124.9" font-size="12.8" font-weight="bold" fill="#141d26" textLength="30.8" lengthAdjust="spacingAndGlyphs">Ti<tspan font-size="9.2" dy="2.8">4</tspan><tspan dy="-2.8">O</tspan><tspan font-size="9.2" dy="2.8">7</tspan></text>

<!-- panel d -->
<text x="419.3" y="23.9" font-size="17.4" font-weight="bold" fill="#fff">d</text>
<text x="459.3" y="125.2" font-size="12.8" font-weight="bold" fill="#141d26" textLength="30.8" lengthAdjust="spacingAndGlyphs">Ti<tspan font-size="9.2" dy="2.8">3</tspan><tspan dy="-2.8">O</tspan><tspan font-size="9.2" dy="2.8">5</tspan></text>

<!-- chart e -->
<g>
 <path d="M23.20,297.71 L23.50,298.17 L23.80,297.63 L24.10,298.31 L24.40,298.05 L24.70,298.16 L25.00,298.92 L25.30,298.51 L25.60,298.56 L25.90,298.91 L26.20,299.14 L26.50,298.90 L26.80,299.20 L27.10,298.84 L27.40,299.14 L27.70,299.23 L28.00,299.07 L28.30,299.13 L28.60,299.21 L28.90,299.73 L29.20,299.86 L29.50,299.93 L29.80,300.17 L30.10,299.86 L30.40,300.35 L30.70,300.57 L31.00,300.84 L31.30,300.47 L31.60,300.72 L31.90,300.35 L32.20,300.92 L32.50,300.53 L32.80,300.88 L33.10,301.75 L33.40,300.88 L33.70,301.89 L34.00,301.87 L34.30,301.79 L34.60,302.14 L34.90,302.28 L35.20,302.55 L35.50,302.28 L35.80,302.29 L36.10,302.40 L36.40,302.39 L36.70,302.73 L37.00,302.57 L37.30,303.19 L37.60,302.36 L37.90,302.66 L38.20,302.76 L38.50,302.48 L38.80,303.74 L39.10,302.50 L39.40,303.20 L39.70,303.19 L40.00,303.90 L40.30,302.87 L40.60,303.84 L40.90,303.36 L41.20,303.60 L41.50,303.50 L41.80,303.95 L42.10,303.48 L42.40,303.86 L42.70,304.05 L43.00,304.55 L43.30,303.34 L43.60,304.58 L43.90,304.46 L44.20,304.09 L44.50,304.39 L44.80,304.22 L45.10,304.91 L45.40,304.54 L45.70,304.47 L46.00,304.53 L46.30,304.60 L46.60,304.66 L46.90,304.49 L47.20,305.38 L47.50,304.20 L47.80,303.70 L48.10,304.75 L48.40,304.75 L48.70,304.91 L49.00,304.75 L49.30,304.77 L49.60,304.92 L49.90,305.12 L50.20,304.70 L50.50,304.73 L50.80,305.43 L51.10,305.02 L51.40,304.57 L51.70,305.57 L52.00,305.11 L52.30,304.71 L52.60,304.54 L52.90,304.99 L53.20,304.66 L53.50,304.60 L53.80,304.53 L54.10,304.78 L54.40,305.27 L54.70,304.81 L55.00,304.51 L55.30,305.15 L55.60,304.98 L55.90,305.22 L56.20,305.33 L56.50,304.93 L56.80,304.94 L57.10,304.98 L57.40,304.65 L57.70,305.18 L58.00,305.39 L58.30,305.02 L58.60,304.89 L58.90,304.88 L59.20,304.71 L59.50,304.70 L59.80,304.81 L60.10,304.67 L60.40,304.78 L60.70,304.43 L61.00,305.00 L61.30,304.90 L61.60,304.53 L61.90,304.18 L62.20,304.86 L62.50,305.18 L62.80,304.61 L63.10,304.68 L63.40,304.64 L63.70,304.99 L64.00,304.50 L64.30,305.06 L64.60,304.66 L64.90,305.01 L65.20,304.72 L65.50,304.62 L65.80,304.22 L66.10,304.44 L66.40,304.54 L66.70,304.79 L67.00,304.63 L67.30,304.31 L67.60,304.61 L67.90,304.75 L68.20,304.37 L68.50,304.24 L68.80,304.20 L69.10,304.50 L69.40,304.35 L69.70,303.83 L70.00,304.14 L70.30,303.77 L70.60,303.56 L70.90,304.01 L71.20,303.70 L71.50,303.01 L71.80,302.97 L72.10,302.75 L72.40,301.96 L72.70,301.53 L73.00,300.99 L73.30,299.18 L73.60,298.29 L73.90,296.12 L74.20,292.28 L74.50,284.59 L74.80,270.12 L75.10,240.16 L75.40,195.38 L75.69,167.75 L75.70,167.99 L76.00,199.14 L76.30,243.29 L76.60,271.52 L76.90,286.04 L77.20,292.24 L77.50,296.25 L77.80,298.46 L78.10,299.70 L78.40,301.53 L78.70,301.58 L79.00,302.75 L79.30,301.91 L79.60,302.15 L79.90,303.34 L80.20,303.39 L80.50,303.19 L80.80,303.28 L81.10,302.66 L81.40,302.86 L81.70,302.34 L82.00,301.70 L82.30,299.93 L82.60,295.08 L82.90,287.79 L83.18,283.35 L83.20,283.19 L83.50,288.92 L83.80,296.27 L84.10,300.37 L84.40,302.77 L84.70,303.02 L85.00,304.33 L85.30,303.78 L85.60,304.60 L85.90,304.21 L86.20,305.05 L86.50,304.69 L86.80,304.85 L87.10,305.01 L87.40,304.65 L87.70,304.57 L88.00,304.32 L88.30,305.32 L88.60,304.78 L88.90,304.84 L89.20,305.03 L89.50,305.66 L89.80,304.56 L90.10,305.18 L90.40,305.00 L90.70,305.29 L91.00,304.61 L91.30,305.05 L91.60,305.43 L91.90,305.66 L92.20,305.69 L92.50,304.98 L92.80,305.28 L93.10,305.25 L93.40,304.90 L93.70,304.90 L94.00,305.58 L94.30,305.45 L94.60,305.36 L94.90,305.79 L95.20,305.15 L95.50,305.63 L95.80,305.49 L96.10,305.50 L96.40,305.68 L96.70,305.61 L97.00,305.66 L97.30,305.68 L97.60,306.20 L97.90,305.55 L98.20,305.96 L98.50,305.86 L98.80,305.59 L99.10,305.96 L99.40,305.48 L99.70,306.11 L100.00,305.53 L100.30,305.65 L100.60,305.91 L100.90,306.08 L101.20,306.13 L101.50,306.14 L101.80,305.83 L102.10,305.62 L102.40,306.09 L102.70,306.04 L103.00,305.68 L103.30,306.27 L103.60,306.06 L103.90,305.73 L104.20,306.16 L104.50,305.65 L104.80,305.80 L105.10,306.20 L105.40,305.63 L105.70,306.12 L106.00,305.72 L106.30,306.36 L106.60,305.94 L106.90,306.22 L107.20,305.73 L107.50,306.09 L107.80,306.49 L108.10,306.35 L108.40,305.67 L108.70,306.51 L109.00,306.51 L109.30,306.13 L109.60,306.67 L109.90,305.92 L110.20,306.21 L110.50,306.56 L110.80,306.60 L111.10,306.56 L111.40,305.80 L111.70,305.51 L112.00,306.00 L112.30,305.09 L112.60,304.79 L112.90,303.38 L113.20,303.13 L113.30,302.72 L113.50,303.23 L113.80,304.15 L114.10,304.84 L114.40,305.28 L114.70,305.23 L115.00,305.16 L115.30,304.45 L115.60,303.39 L115.90,301.65 L116.20,301.25 L116.26,300.61 L116.50,300.99 L116.80,302.35 L117.10,303.13 L117.40,302.58 L117.70,301.55 L118.00,300.37 L118.30,296.00 L118.60,290.08 L118.90,282.65 L119.20,278.51 L119.22,278.45 L119.50,281.37 L119.80,288.96 L120.10,295.25 L120.40,299.59 L120.70,301.13 L121.00,302.90 L121.30,302.56 L121.60,301.11 L121.90,300.68 L122.01,300.90 L122.20,301.39 L122.50,303.04 L122.80,304.31 L123.10,305.76 L123.40,305.97 L123.70,306.02 L124.00,306.33 L124.30,306.91 L124.60,306.61 L124.90,307.14 L125.20,307.28 L125.50,307.21 L125.80,307.40 L126.10,307.09 L126.40,307.19 L126.70,307.05 L127.00,307.08 L127.30,306.83 L127.60,307.16 L127.90,307.03 L128.20,306.94 L128.50,307.42 L128.80,307.52 L129.10,307.28 L129.40,307.78 L129.70,307.60 L130.00,307.49 L130.30,306.68 L130.60,305.80 L130.90,305.54 L131.20,304.85 L131.24,304.75 L131.50,305.40 L131.80,306.24 L132.10,307.24 L132.40,307.20 L132.70,307.70 L133.00,307.34 L133.30,306.98 L133.60,307.59 L133.90,308.21 L134.20,307.29 L134.50,308.13 L134.80,307.65 L135.10,307.76 L135.40,307.91 L135.70,307.98 L136.00,307.65 L136.30,307.99 L136.60,308.11 L136.90,308.24 L137.20,307.78 L137.50,308.48 L137.80,308.60 L138.10,308.76 L138.40,307.64 L138.70,308.09 L139.00,307.48 L139.30,308.12 L139.60,308.11 L139.90,307.46 L140.20,307.08 L140.50,307.24 L140.80,307.00 L140.99,306.73 L141.10,306.53 L141.40,307.03 L141.70,306.77 L142.00,307.63 L142.30,308.08 L142.60,308.18 L142.90,308.67 L143.20,307.89 L143.50,307.59 L143.80,308.42 L144.10,308.12 L144.40,308.40 L144.70,308.54 L145.00,308.52 L145.30,308.78 L145.60,308.75 L145.90,307.85 L146.20,308.33 L146.50,308.95 L146.80,308.23 L147.10,308.63 L147.40,308.32 L147.70,308.19 L148.00,308.78 L148.30,308.59 L148.60,308.18 L148.90,308.49 L149.20,307.78 L149.50,307.90 L149.80,308.32 L150.10,307.98 L150.40,307.55 L150.70,307.88 L151.00,307.69 L151.30,307.78 L151.60,307.42 L151.90,306.72 L152.20,306.21 L152.50,305.67 L152.80,304.69 L153.10,303.65 L153.40,301.13 L153.70,296.90 L154.00,290.36 L154.30,281.89 L154.60,273.61 L154.90,268.77 L154.92,268.85 L155.20,272.35 L155.50,280.16 L155.80,289.08 L156.10,296.25 L156.40,299.99 L156.70,302.65 L157.00,304.74 L157.30,306.35 L157.60,306.99 L157.90,306.95 L158.20,307.30 L158.50,307.70 L158.80,307.70 L159.10,308.18 L159.40,308.24 L159.70,308.02 L160.00,308.41 L160.30,308.60 L160.60,308.51 L160.90,308.51 L161.20,309.18 L161.50,309.54 L161.80,308.94 L162.10,308.93 L162.40,309.25 L162.70,309.06 L163.00,308.92 L163.30,309.60 L163.60,308.89 L163.90,309.01 L164.20,309.04 L164.50,308.99 L164.80,309.20 L165.10,309.46 L165.40,309.73 L165.70,309.50 L166.00,309.32 L166.30,308.94 L166.60,309.30 L166.90,309.03 L167.20,309.29 L167.50,309.60 L167.80,309.37 L168.10,309.23 L168.40,309.06 L168.70,309.26 L169.00,309.28 L169.30,308.94 L169.60,309.04 L169.90,309.41 L170.20,308.60 L170.50,308.91 L170.80,308.63 L171.10,309.35 L171.40,308.96 L171.70,308.80 L172.00,308.59 L172.30,308.34 L172.60,308.04 L172.90,307.06 L173.20,307.00 L173.50,306.10 L173.80,303.86 L174.10,301.92 L174.40,297.98 L174.70,292.23 L175.00,287.41 L175.30,285.15 L175.30,285.06 L175.60,287.29 L175.90,292.55 L176.20,296.92 L176.50,300.86 L176.80,303.29 L177.10,304.64 L177.40,304.80 L177.70,304.35 L178.00,303.42 L178.30,300.32 L178.60,297.59 L178.90,292.44 L179.20,287.45 L179.48,285.95 L179.50,285.84 L179.80,288.12 L180.10,293.15 L180.40,298.54 L180.70,302.09 L181.00,305.00 L181.30,306.05 L181.60,306.86 L181.90,307.55 L182.20,308.74 L182.50,308.51 L182.80,308.50 L183.10,308.49 L183.40,308.45 L183.70,308.55 L184.00,308.33 L184.30,307.97 L184.60,307.52 L184.70,307.15 L184.90,307.44 L185.20,307.85 L185.50,308.47 L185.80,308.51 L186.10,309.18 L186.40,309.78 L186.70,309.65 L187.00,309.93 L187.30,309.47 L187.60,310.19 L187.90,310.04 L188.20,310.00 L188.50,310.14 L188.80,309.37 L189.10,309.90 L189.40,309.82 L189.70,310.66 L190.00,310.08 L190.30,310.00 L190.60,310.42 L190.90,309.86 L191.20,310.62 L191.50,310.00 L191.80,310.20 L192.10,309.96 L192.40,310.49 L192.70,309.61 L193.00,310.47 L193.30,310.03 L193.60,310.30 L193.90,309.95 L194.20,310.37 L194.50,310.37 L194.80,310.49 L195.10,310.42 L195.40,310.51 L195.70,310.63 L196.00,310.22 L196.30,309.98 L196.60,309.96 L196.90,310.54 L197.20,310.22 L197.50,310.64 L197.80,310.33 L198.10,310.00 L198.40,310.56 L198.70,310.86 L199.00,310.20 L199.30,309.96 L199.60,309.96 L199.90,310.45 L200.20,309.98 L200.50,309.99 L200.80,310.27 L201.10,310.01 L201.40,309.98 L201.70,309.70 L202.00,309.56 L202.30,309.68 L202.60,309.51 L202.90,309.43 L203.20,308.81 L203.50,308.64 L203.80,308.05 L204.10,306.96 L204.40,305.66 L204.70,303.71 L205.00,300.71 L205.30,297.41 L205.60,294.00 L205.90,292.78 L205.95,292.65 L206.20,293.54 L206.50,296.26 L206.80,299.43 L207.10,302.80 L207.40,305.68 L207.70,306.67 L208.00,307.65 L208.30,308.46 L208.60,308.60 L208.90,309.07 L209.20,308.96 L209.50,308.97 L209.80,309.13 L210.10,308.98 L210.40,308.81 L210.47,308.86 L210.70,308.75 L211.00,309.36 L211.30,309.28 L211.60,310.10 L211.90,309.96 L212.20,310.19 L212.50,310.51 L212.80,310.50 L213.10,309.99 L213.40,310.34 L213.70,310.56 L214.00,310.15 L214.30,309.78 L214.60,310.50 L214.90,310.52 L215.20,310.68 L215.50,310.59 L215.80,310.62 L216.10,310.66 L216.40,311.01 L216.70,310.75 L217.00,310.78 L217.30,310.50 L217.60,310.96 L217.90,310.58 L218.20,310.86 L218.50,310.01 L218.80,310.72 L219.10,310.62 L219.40,310.51 L219.70,311.03 L220.00,310.77 L220.30,310.60 L220.60,310.48 L220.90,311.20 L221.20,310.85 L221.50,310.81 L221.80,310.38 L222.10,310.98 L222.40,310.74 L222.70,310.47 L223.00,310.49 L223.30,309.99 L223.60,310.63 L223.90,310.05 L224.20,310.55 L224.50,310.05 L224.80,309.83 L225.10,309.87 L225.40,309.39 L225.70,308.29 L226.00,307.55 L226.30,306.30 L226.60,304.32 L226.90,302.41 L227.19,302.15 L227.20,302.08 L227.50,302.57 L227.80,304.26 L228.10,306.14 L228.40,307.51 L228.70,308.46 L229.00,308.66 L229.30,309.61 L229.60,309.62 L229.90,309.60 L230.20,309.69 L230.50,309.98 L230.80,308.57 L231.10,307.72 L231.40,307.31 L231.70,305.41 L232.00,304.52 L232.30,302.85 L232.42,303.05 L232.60,303.16 L232.90,304.77 L233.20,306.38 L233.50,307.67 L233.80,308.76 L234.10,309.33 L234.40,309.71 L234.70,310.07 L235.00,310.69 L235.30,310.65 L235.60,310.53 L235.90,310.68 L236.20,310.89 L236.50,311.04 L236.80,310.68 L237.10,310.72 L237.40,310.87 L237.70,311.57 L238.00,310.88 L238.30,311.20 L238.60,310.38 L238.90,311.10 L239.20,310.44 L239.50,310.54 L239.80,310.68 L240.10,310.83 L240.40,310.93 L240.70,310.99 L241.00,310.95 L241.30,310.75 L241.60,311.65 L241.90,310.99 L242.20,311.07 L242.50,311.46 L242.80,311.14 L243.10,311.01 L243.40,310.92 L243.70,311.36 L244.00,310.45 L244.30,310.46 L244.60,310.75 L244.90,310.05 L245.20,310.36 L245.50,310.85 L245.80,310.27 L246.10,310.31 L246.40,310.25 L246.70,309.37 L247.00,309.26 L247.30,308.17 L247.60,306.82 L247.90,305.39 L248.20,303.42 L248.50,301.23 L248.80,299.69 L248.96,299.65 L249.10,300.11 L249.40,301.55 L249.70,303.44 L250.00,305.28 L250.30,306.66 L250.60,307.94 L250.90,308.62 L251.20,309.43 L251.50,309.76 L251.80,309.66 L252.10,309.14 L252.40,308.80 L252.62,308.89 L252.70,308.98 L253.00,309.29 L253.30,309.88 L253.60,310.56 L253.90,310.23 L254.20,311.27 L254.50,310.16 L254.80,310.34 L255.10,310.48 L255.40,310.67 L255.70,310.94 L256.00,311.65 L256.30,310.86 L256.60,311.42 L256.90,311.00 L257.20,311.17 L257.50,310.84 L257.80,311.83 L258.10,311.16 L258.40,311.00 L258.70,311.87 L259.00,311.25 L259.30,311.33 L259.60,311.18 L259.90,310.98 L260.20,310.81 L260.50,311.19 L260.80,311.73 L261.10,311.38 L261.40,311.21 L261.70,311.59 L262.00,311.00 L262.30,311.69 L262.60,311.29 L262.90,311.05 L263.20,311.50 L263.50,311.46 L263.80,311.21 L264.10,311.38 L264.40,311.61 L264.70,311.75 L265.00,311.08 L265.30,310.56" fill="none" stroke="#303030" stroke-width="1.45" stroke-linejoin="round"/>
 <line x1="75.69" y1="322.60" x2="75.69" y2="247.30" stroke="#12a012" stroke-width="1.30"/><line x1="116.26" y1="322.60" x2="116.26" y2="317.10" stroke="#12a012" stroke-width="1.30"/><line x1="119.22" y1="322.60" x2="119.22" y2="307.70" stroke="#12a012" stroke-width="1.30"/><line x1="122.01" y1="322.60" x2="122.01" y2="316.00" stroke="#12a012" stroke-width="1.30"/><line x1="154.92" y1="322.60" x2="154.92" y2="303.00" stroke="#12a012" stroke-width="1.30"/><line x1="168.51" y1="322.60" x2="168.51" y2="321.00" stroke="#12a012" stroke-width="1.30"/><line x1="175.30" y1="322.60" x2="175.30" y2="310.10" stroke="#12a012" stroke-width="1.30"/><line x1="179.48" y1="322.60" x2="179.48" y2="310.00" stroke="#12a012" stroke-width="1.30"/><line x1="203.86" y1="322.60" x2="203.86" y2="319.00" stroke="#12a012" stroke-width="1.30"/><line x1="205.95" y1="322.60" x2="205.95" y2="312.90" stroke="#12a012" stroke-width="1.30"/><line x1="227.19" y1="322.60" x2="227.19" y2="317.50" stroke="#12a012" stroke-width="1.30"/><line x1="232.42" y1="322.60" x2="232.42" y2="317.00" stroke="#12a012" stroke-width="1.30"/><line x1="245.65" y1="322.60" x2="245.65" y2="320.50" stroke="#12a012" stroke-width="1.30"/><line x1="248.96" y1="322.60" x2="248.96" y2="315.20" stroke="#12a012" stroke-width="1.30"/><line x1="252.44" y1="322.60" x2="252.44" y2="319.30" stroke="#12a012" stroke-width="1.30"/><line x1="262.37" y1="322.60" x2="262.37" y2="321.00" stroke="#12a012" stroke-width="1.30"/>
 <line x1="83.18" y1="322.60" x2="83.18" y2="267.20" stroke="#ff8a1f" stroke-width="1.30"/><line x1="113.30" y1="322.60" x2="113.30" y2="297.00" stroke="#ff8a1f" stroke-width="1.30"/><line x1="124.10" y1="322.60" x2="124.10" y2="318.00" stroke="#ff8a1f" stroke-width="1.30"/><line x1="131.24" y1="322.60" x2="131.24" y2="312.00" stroke="#ff8a1f" stroke-width="1.30"/><line x1="140.99" y1="322.60" x2="140.99" y2="318.30" stroke="#ff8a1f" stroke-width="1.30"/><line x1="176.86" y1="322.60" x2="176.86" y2="295.00" stroke="#ff8a1f" stroke-width="1.30"/><line x1="184.88" y1="322.60" x2="184.88" y2="313.50" stroke="#ff8a1f" stroke-width="1.30"/><line x1="206.29" y1="322.60" x2="206.29" y2="317.40" stroke="#ff8a1f" stroke-width="1.30"/><line x1="210.82" y1="322.60" x2="210.82" y2="317.70" stroke="#ff8a1f" stroke-width="1.30"/><line x1="215.70" y1="322.60" x2="215.70" y2="321.00" stroke="#ff8a1f" stroke-width="1.30"/><line x1="228.06" y1="322.60" x2="228.06" y2="313.20" stroke="#ff8a1f" stroke-width="1.30"/><line x1="230.85" y1="322.60" x2="230.85" y2="317.40" stroke="#ff8a1f" stroke-width="1.30"/><line x1="239.90" y1="322.60" x2="239.90" y2="320.50" stroke="#ff8a1f" stroke-width="1.30"/><line x1="254.18" y1="322.60" x2="254.18" y2="320.00" stroke="#ff8a1f" stroke-width="1.30"/><line x1="265.68" y1="322.60" x2="265.68" y2="321.00" stroke="#ff8a1f" stroke-width="1.30"/>
 <path d="M75.50,157.30 L77.80,160.50 L75.50,163.70 L73.20,160.50 Z" fill="#12a012"/><path d="M118.80,267.70 L121.10,270.90 L118.80,274.10 L116.50,270.90 Z" fill="#12a012"/><path d="M154.80,256.40 L157.10,259.60 L154.80,262.80 L152.50,259.60 Z" fill="#12a012"/><path d="M174.20,276.90 L176.50,280.10 L174.20,283.30 L171.90,280.10 Z" fill="#12a012"/><path d="M180.20,276.90 L182.50,280.10 L180.20,283.30 L177.90,280.10 Z" fill="#12a012"/><path d="M206.20,282.80 L208.50,286.00 L206.20,289.20 L203.90,286.00 Z" fill="#12a012"/><path d="M233.60,293.60 L235.90,296.80 L233.60,300.00 L231.30,296.80 Z" fill="#12a012"/><path d="M249.20,289.80 L251.50,293.00 L249.20,296.20 L246.90,293.00 Z" fill="#12a012"/>
 <g fill="#ff8a1f"><circle cx="83.00" cy="257.70" r="1.1"/><circle cx="81.65" cy="259.75" r="1.20"/><circle cx="84.35" cy="259.75" r="1.20"/><rect x="81.65" y="258.60" width="2.7" height="2.2"/><path d="M83.00,259.40 L82.30,261.20 L83.70,261.20 Z"/></g><g fill="#ff8a1f"><circle cx="113.10" cy="287.40" r="1.1"/><circle cx="111.75" cy="289.45" r="1.20"/><circle cx="114.45" cy="289.45" r="1.20"/><rect x="111.75" y="288.30" width="2.7" height="2.2"/><path d="M113.10,289.10 L112.40,290.90 L113.80,290.90 Z"/></g><g fill="#ff8a1f"><circle cx="131.30" cy="297.00" r="1.1"/><circle cx="129.95" cy="299.05" r="1.20"/><circle cx="132.65" cy="299.05" r="1.20"/><rect x="129.95" y="297.90" width="2.7" height="2.2"/><path d="M131.30,298.70 L130.60,300.50 L132.00,300.50 Z"/></g><g fill="#ff8a1f"><circle cx="141.00" cy="301.80" r="1.1"/><circle cx="139.65" cy="303.85" r="1.20"/><circle cx="142.35" cy="303.85" r="1.20"/><rect x="139.65" y="302.70" width="2.7" height="2.2"/><path d="M141.00,303.50 L140.30,305.30 L141.70,305.30 Z"/></g><g fill="#ff8a1f"><circle cx="177.60" cy="274.10" r="1.1"/><circle cx="176.25" cy="276.15" r="1.20"/><circle cx="178.95" cy="276.15" r="1.20"/><rect x="176.25" y="275.00" width="2.7" height="2.2"/><path d="M177.60,275.80 L176.90,277.60 L178.30,277.60 Z"/></g><g fill="#ff8a1f"><circle cx="185.10" cy="302.20" r="1.1"/><circle cx="183.75" cy="304.25" r="1.20"/><circle cx="186.45" cy="304.25" r="1.20"/><rect x="183.75" y="303.10" width="2.7" height="2.2"/><path d="M185.10,303.90 L184.40,305.70 L185.80,305.70 Z"/></g><g fill="#ff8a1f"><circle cx="212.30" cy="307.40" r="1.1"/><circle cx="210.95" cy="309.45" r="1.20"/><circle cx="213.65" cy="309.45" r="1.20"/><rect x="210.95" y="308.30" width="2.7" height="2.2"/><path d="M212.30,309.10 L211.60,310.90 L213.00,310.90 Z"/></g><g fill="#ff8a1f"><circle cx="228.40" cy="296.60" r="1.1"/><circle cx="227.05" cy="298.65" r="1.20"/><circle cx="229.75" cy="298.65" r="1.20"/><rect x="227.05" y="297.50" width="2.7" height="2.2"/><path d="M228.40,298.30 L227.70,300.10 L229.10,300.10 Z"/></g>
 <rect x="22.4" y="145.5" width="243.79999999999998" height="177.10000000000002" fill="none" stroke="#111" stroke-width="1.3"/>
 <g stroke="#111" stroke-width="1.2"><line x1="22.40" y1="322.60" x2="22.40" y2="326.20"/><line x1="39.81" y1="322.60" x2="39.81" y2="324.40"/><line x1="57.23" y1="322.60" x2="57.23" y2="326.20"/><line x1="74.64" y1="322.60" x2="74.64" y2="324.40"/><line x1="92.06" y1="322.60" x2="92.06" y2="326.20"/><line x1="109.47" y1="322.60" x2="109.47" y2="324.40"/><line x1="126.89" y1="322.60" x2="126.89" y2="326.20"/><line x1="144.30" y1="322.60" x2="144.30" y2="324.40"/><line x1="161.71" y1="322.60" x2="161.71" y2="326.20"/><line x1="179.13" y1="322.60" x2="179.13" y2="324.40"/><line x1="196.54" y1="322.60" x2="196.54" y2="326.20"/><line x1="213.96" y1="322.60" x2="213.96" y2="324.40"/><line x1="231.37" y1="322.60" x2="231.37" y2="326.20"/><line x1="248.79" y1="322.60" x2="248.79" y2="324.40"/><line x1="266.20" y1="322.60" x2="266.20" y2="326.20"/></g>
 <g font-size="10" font-weight="bold" fill="#111"><text x="22.40" y="337.40" text-anchor="middle">10</text><text x="57.23" y="337.40" text-anchor="middle">20</text><text x="92.06" y="337.40" text-anchor="middle">30</text><text x="126.89" y="337.40" text-anchor="middle">40</text><text x="161.71" y="337.40" text-anchor="middle">50</text><text x="196.54" y="337.40" text-anchor="middle">60</text><text x="231.37" y="337.40" text-anchor="middle">70</text><text x="266.20" y="337.40" text-anchor="middle">80</text></g>
 <text x="105.5" y="351.4" font-size="11.8" font-weight="bold" fill="#111" textLength="77.5" lengthAdjust="spacingAndGlyphs">2-Theta (deg.)</text>
 <text transform="translate(12.9,271) rotate(-90)" font-size="11.6" font-weight="bold" fill="#111" textLength="82" lengthAdjust="spacingAndGlyphs">Indensity (a.u.)</text>
 <text x="6.3" y="154.8" font-size="16" font-weight="bold" fill="#111">e</text>
 <line x1="198.9" y1="161" x2="220.8" y2="161" stroke="#444" stroke-width="1.4"/>
 <g font-size="9.3" font-weight="bold" fill="#111">
  <text x="223.6" y="164.2" textLength="37.8" lengthAdjust="spacingAndGlyphs">P25 TiO<tspan font-size="6.6" dy="2.2">2</tspan></text>
  <text x="124.2" y="181.1" textLength="136.5" lengthAdjust="spacingAndGlyphs">JCPDS NO. 73-1232 Rutile TiO<tspan font-size="6.6" dy="2.2">2</tspan></text>
  <text x="114" y="198.3" textLength="147.3" lengthAdjust="spacingAndGlyphs">JCPDS NO. 78-2486 Anatase TiO<tspan font-size="6.6" dy="2.2">2</tspan></text>
 </g>
 <g fill="#ff8a1f"><circle cx="114.45" cy="177.10" r="1.1"/><circle cx="113.10" cy="179.15" r="1.20"/><circle cx="115.80" cy="179.15" r="1.20"/><rect x="113.10" y="178.00" width="2.7" height="2.2"/><path d="M114.45,178.80 L113.75,180.60 L115.15,180.60 Z"/></g>
 <path d="M104.50,192.90 L106.70,196.00 L104.50,199.10 L102.30,196.00 Z" fill="#12a012"/>
</g>

<!-- chart f -->
<g>
 <path d="M300.20,294.67 L300.45,295.09 L300.70,294.97 L300.95,295.09 L301.20,295.01 L301.45,295.41 L301.70,296.02 L301.95,295.92 L302.20,296.28 L302.45,296.15 L302.70,296.34 L302.95,296.40 L303.20,295.88 L303.45,296.89 L303.70,296.90 L303.95,297.03 L304.20,296.39 L304.45,296.50 L304.70,296.93 L304.95,297.21 L305.20,297.61 L305.45,297.61 L305.70,297.94 L305.95,297.66 L306.20,298.12 L306.45,298.25 L306.70,297.99 L306.95,298.92 L307.20,298.62 L307.45,298.95 L307.70,298.42 L307.95,298.48 L308.20,298.73 L308.45,298.91 L308.70,299.28 L308.95,299.25 L309.20,299.11 L309.45,299.03 L309.70,299.29 L309.95,300.00 L310.20,299.39 L310.45,299.85 L310.70,300.02 L310.95,299.44 L311.20,300.08 L311.45,300.61 L311.70,299.54 L311.95,300.23 L312.20,300.39 L312.45,300.22 L312.70,300.75 L312.95,300.59 L313.20,300.00 L313.45,300.20 L313.70,299.04 L313.80,298.65 L313.95,299.45 L314.20,300.91 L314.45,301.20 L314.70,301.36 L314.95,301.02 L315.20,301.81 L315.45,301.50 L315.70,301.63 L315.95,301.42 L316.20,301.59 L316.45,301.82 L316.70,302.52 L316.95,301.43 L317.20,301.69 L317.45,302.35 L317.70,302.84 L317.95,302.60 L318.20,301.80 L318.45,301.65 L318.70,302.72 L318.95,302.39 L319.20,302.32 L319.45,303.11 L319.70,303.22 L319.95,302.94 L320.20,303.01 L320.45,303.11 L320.70,303.54 L320.95,303.21 L321.20,303.15 L321.45,303.07 L321.70,301.97 L321.95,301.49 L322.20,297.62 L322.40,295.05 L322.45,295.43 L322.70,298.46 L322.95,301.89 L323.20,303.38 L323.45,302.77 L323.70,303.49 L323.95,304.01 L324.20,303.27 L324.45,304.35 L324.70,304.03 L324.95,303.84 L325.20,304.05 L325.45,304.20 L325.70,304.05 L325.95,304.45 L326.20,303.86 L326.45,303.98 L326.70,304.52 L326.95,304.20 L327.20,303.92 L327.45,304.59 L327.70,304.80 L327.95,304.17 L328.20,303.87 L328.45,304.34 L328.70,304.36 L328.95,304.34 L329.20,304.97 L329.45,304.14 L329.70,304.97 L329.95,304.11 L330.20,304.30 L330.45,304.82 L330.70,305.02 L330.95,304.94 L331.20,304.78 L331.45,304.72 L331.70,304.74 L331.95,304.89 L332.20,304.63 L332.45,304.78 L332.70,304.86 L332.95,304.63 L333.20,304.85 L333.45,304.70 L333.70,305.09 L333.95,304.34 L334.20,303.82 L334.45,303.44 L334.70,302.92 L334.95,302.07 L335.20,298.66 L335.45,288.97 L335.70,263.91 L335.95,233.50 L336.00,233.15 L336.20,249.27 L336.45,280.90 L336.70,296.43 L336.95,301.20 L337.20,302.64 L337.45,303.88 L337.70,304.28 L337.95,304.35 L338.20,305.63 L338.45,305.08 L338.70,304.89 L338.95,305.13 L339.20,305.12 L339.45,305.05 L339.70,303.55 L339.95,303.29 L340.10,303.15 L340.20,303.69 L340.45,304.05 L340.70,305.24 L340.95,305.90 L341.20,305.99 L341.45,306.28 L341.70,305.22 L341.95,305.73 L342.20,305.78 L342.45,306.15 L342.70,306.34 L342.95,305.05 L343.20,306.39 L343.45,305.53 L343.70,306.29 L343.95,305.54 L344.20,306.14 L344.45,306.49 L344.70,306.00 L344.95,306.08 L345.20,306.16 L345.45,305.50 L345.70,304.05 L345.95,302.23 L346.10,300.95 L346.20,301.68 L346.45,303.60 L346.70,306.34 L346.95,305.58 L347.20,306.50 L347.45,306.18 L347.70,306.39 L347.95,306.63 L348.20,306.50 L348.45,306.67 L348.70,305.94 L348.95,305.96 L349.20,306.72 L349.45,306.18 L349.70,306.17 L349.95,306.02 L350.20,306.98 L350.45,306.79 L350.70,307.04 L350.95,306.18 L351.20,306.49 L351.45,306.05 L351.70,306.67 L351.95,306.90 L352.20,305.95 L352.45,306.70 L352.70,306.37 L352.95,305.78 L353.20,304.92 L353.45,305.77 L353.70,304.79 L353.95,303.93 L354.20,303.22 L354.45,301.44 L354.70,298.06 L354.95,285.44 L355.20,250.52 L355.45,188.95 L355.60,169.15 L355.70,178.83 L355.95,238.90 L356.20,280.99 L356.45,296.61 L356.70,300.91 L356.95,302.94 L357.20,304.58 L357.45,304.74 L357.70,304.54 L357.95,305.56 L358.20,305.30 L358.45,306.37 L358.70,306.14 L358.95,305.44 L359.20,305.35 L359.20,305.35 L359.45,305.83 L359.70,306.69 L359.95,306.70 L360.20,307.24 L360.45,306.82 L360.70,307.24 L360.95,307.42 L361.20,307.48 L361.45,306.68 L361.70,307.22 L361.95,306.23 L362.20,306.47 L362.45,306.09 L362.70,307.05 L362.95,306.07 L363.20,306.17 L363.45,305.28 L363.70,302.68 L363.95,296.42 L364.20,291.65 L364.20,291.65 L364.45,296.43 L364.70,302.72 L364.95,304.37 L365.20,304.78 L365.45,304.31 L365.70,302.09 L365.95,295.70 L366.20,277.41 L366.45,245.86 L366.60,235.45 L366.70,239.67 L366.95,271.67 L367.20,294.30 L367.45,302.05 L367.70,304.18 L367.95,305.52 L368.20,305.90 L368.45,305.80 L368.70,305.90 L368.95,306.37 L369.20,306.98 L369.45,306.46 L369.70,306.25 L369.95,306.05 L370.20,305.10 L370.45,303.22 L370.70,296.70 L370.95,290.28 L371.00,289.85 L371.20,292.95 L371.45,301.31 L371.70,304.60 L371.95,305.17 L372.20,306.32 L372.45,305.90 L372.70,304.94 L372.95,304.87 L373.20,304.31 L373.45,302.03 L373.70,296.48 L373.95,277.15 L374.20,238.13 L374.40,217.25 L374.45,218.94 L374.70,255.52 L374.95,287.39 L375.20,299.84 L375.45,302.73 L375.70,305.31 L375.95,306.31 L376.20,306.30 L376.45,306.61 L376.70,307.71 L376.95,306.61 L377.20,307.53 L377.45,308.32 L377.70,307.23 L377.95,307.85 L378.20,308.32 L378.45,307.64 L378.70,307.90 L378.95,308.02 L379.20,307.37 L379.45,307.63 L379.70,307.71 L379.95,307.82 L380.20,307.39 L380.45,307.16 L380.70,306.60 L380.95,306.40 L381.20,306.13 L381.45,304.44 L381.70,299.95 L381.95,286.61 L382.20,260.93 L382.40,245.75 L382.45,247.23 L382.70,272.02 L382.95,293.01 L383.20,302.75 L383.45,305.28 L383.70,306.73 L383.95,306.84 L384.20,307.00 L384.45,307.40 L384.70,306.64 L384.95,307.71 L385.20,307.42 L385.45,306.94 L385.70,307.41 L385.95,307.19 L386.20,305.38 L386.45,304.25 L386.70,300.50 L386.95,287.33 L387.20,260.65 L387.40,246.75 L387.45,247.47 L387.70,273.03 L387.95,294.30 L388.20,301.85 L388.45,304.13 L388.70,305.88 L388.95,305.61 L389.20,305.01 L389.45,300.98 L389.70,288.64 L389.95,268.53 L390.10,262.05 L390.20,264.38 L390.45,285.17 L390.70,299.54 L390.95,304.74 L391.20,305.78 L391.45,306.54 L391.70,306.93 L391.95,306.76 L392.20,306.17 L392.45,303.41 L392.70,294.98 L392.95,281.00 L393.10,276.25 L393.20,278.44 L393.45,292.39 L393.70,302.40 L393.95,306.17 L394.20,307.24 L394.45,307.82 L394.70,308.05 L394.95,308.28 L395.20,308.27 L395.45,307.92 L395.70,308.48 L395.95,308.54 L396.20,307.74 L396.45,305.52 L396.70,301.66 L396.90,299.35 L396.95,299.18 L397.20,302.68 L397.45,306.75 L397.70,307.72 L397.95,308.67 L398.20,308.13 L398.45,307.55 L398.70,307.73 L398.95,307.26 L399.20,303.72 L399.40,302.35 L399.45,301.99 L399.70,304.91 L399.95,307.75 L400.20,308.68 L400.45,308.85 L400.70,309.42 L400.95,309.21 L401.20,308.98 L401.45,309.21 L401.70,309.57 L401.95,309.31 L402.20,309.28 L402.45,308.46 L402.70,308.68 L402.95,308.81 L403.20,308.17 L403.45,308.17 L403.70,306.89 L403.95,303.69 L404.20,294.85 L404.45,283.26 L404.60,278.75 L404.70,280.86 L404.95,292.31 L405.20,301.97 L405.45,306.78 L405.70,306.85 L405.95,307.29 L406.20,306.05 L406.45,301.60 L406.70,293.92 L406.90,290.85 L406.95,291.19 L407.20,297.70 L407.45,304.43 L407.70,307.30 L407.95,308.01 L408.20,308.62 L408.45,308.61 L408.70,308.43 L408.95,308.13 L409.20,307.29 L409.45,305.26 L409.70,298.53 L409.95,289.55 L410.10,287.15 L410.20,288.38 L410.45,296.63 L410.70,303.99 L410.95,306.35 L411.20,307.68 L411.45,308.29 L411.70,307.96 L411.95,306.21 L412.20,301.93 L412.45,295.16 L412.60,293.85 L412.70,295.38 L412.95,301.13 L413.20,306.31 L413.45,307.71 L413.70,308.63 L413.95,308.26 L414.20,309.03 L414.45,308.31 L414.70,305.87 L414.90,305.85 L414.95,305.90 L415.20,307.52 L415.45,308.06 L415.70,308.69 L415.95,309.18 L416.20,309.42 L416.45,309.13 L416.70,309.47 L416.95,309.34 L417.00,309.25 L417.20,309.63 L417.45,309.94 L417.70,310.38 L417.95,310.32 L418.20,309.48 L418.45,309.79 L418.70,309.61 L418.95,309.63 L419.20,309.99 L419.45,310.03 L419.70,310.21 L419.95,309.49 L420.20,309.62 L420.45,310.04 L420.70,309.95 L420.95,309.77 L421.20,309.58 L421.40,309.45 L421.45,309.20 L421.70,309.99 L421.95,310.11 L422.20,310.05 L422.45,309.88 L422.70,310.08 L422.95,309.20 L423.20,309.81 L423.45,310.18 L423.70,309.64 L423.95,310.25 L424.20,310.23 L424.45,309.70 L424.70,310.10 L424.95,310.08 L425.20,310.35 L425.45,310.40 L425.70,310.16 L425.95,309.87 L426.20,310.10 L426.45,310.10 L426.70,310.33 L426.95,310.10 L427.20,309.62 L427.45,309.09 L427.70,308.44 L427.95,305.47 L428.20,301.27 L428.30,301.05 L428.45,302.31 L428.70,306.33 L428.95,308.94 L429.20,309.88 L429.45,309.81 L429.70,310.90 L429.95,310.05 L430.20,310.60 L430.45,310.29 L430.70,310.67 L430.95,309.47 L431.20,310.06 L431.45,310.42 L431.70,310.56 L431.95,311.18 L432.20,310.48 L432.45,310.82 L432.70,310.65 L432.95,310.72 L433.20,310.57 L433.45,310.34 L433.70,310.57 L433.95,309.99 L434.20,310.68 L434.45,309.75 L434.60,310.05 L434.70,310.17 L434.95,311.00 L435.20,310.30 L435.45,310.43 L435.70,310.85 L435.95,310.47 L436.20,310.18 L436.45,310.56 L436.70,310.68 L436.95,310.73 L437.20,310.21 L437.45,311.10 L437.70,311.08 L437.95,310.50 L438.20,310.59 L438.45,310.34 L438.70,310.99 L438.95,310.24 L439.20,310.72 L439.45,310.32 L439.70,310.24 L439.95,310.73 L440.20,310.94 L440.45,310.46 L440.70,310.20 L440.95,310.67 L441.20,310.26 L441.45,310.27 L441.50,310.15 L441.70,310.74 L441.95,310.71 L442.20,310.18 L442.45,311.17 L442.70,310.36 L442.95,310.61 L443.20,310.07 L443.45,310.24 L443.70,309.59 L443.95,310.76 L444.20,310.52 L444.45,309.49 L444.70,309.20 L444.95,308.88 L445.20,309.38 L445.45,307.70 L445.70,304.40 L445.95,295.54 L446.20,283.93 L446.30,282.25 L446.45,285.40 L446.70,297.65 L446.95,304.50 L447.20,307.48 L447.45,308.22 L447.70,308.26 L447.95,307.58 L448.20,306.21 L448.45,303.15 L448.70,292.07 L448.95,269.91 L449.20,251.85 L449.20,251.85 L449.45,269.69 L449.70,292.33 L449.95,303.13 L450.20,306.59 L450.45,307.79 L450.70,308.66 L450.95,309.29 L451.20,309.62 L451.45,309.81 L451.70,310.45 L451.95,309.53 L452.20,309.81 L452.45,310.78 L452.70,309.11 L452.95,309.51 L453.20,309.63 L453.45,309.43 L453.70,309.23 L453.95,308.54 L454.20,307.99 L454.45,306.31 L454.70,301.96 L454.95,287.46 L455.20,262.70 L455.40,250.35 L455.45,251.28 L455.70,273.25 L455.95,294.36 L456.20,303.82 L456.45,305.92 L456.70,306.90 L456.95,306.13 L457.20,301.89 L457.45,290.68 L457.70,275.29 L457.80,273.15 L457.95,277.47 L458.20,293.89 L458.45,304.07 L458.70,307.36 L458.95,308.72 L459.20,309.59 L459.45,309.37 L459.70,310.14 L459.95,310.73 L460.20,310.01 L460.45,310.35 L460.70,310.31 L460.95,310.97 L461.20,310.59 L461.45,310.83 L461.70,310.31 L461.95,310.57 L462.20,310.60 L462.45,310.00 L462.70,311.14 L462.95,310.97 L463.20,310.06 L463.45,310.94 L463.70,310.64 L463.95,310.86 L464.20,310.83 L464.45,310.18 L464.70,310.64 L464.95,311.23 L465.20,310.51 L465.45,310.34 L465.70,310.21 L465.95,310.24 L466.20,310.75 L466.45,311.16 L466.70,310.63 L466.95,310.36 L467.20,310.45 L467.45,307.68 L467.70,304.29 L467.90,302.85 L467.95,303.16 L468.20,306.16 L468.45,308.44 L468.70,309.59 L468.95,310.49 L469.20,310.62 L469.45,310.15 L469.70,310.57 L469.95,310.48 L470.20,310.83 L470.45,310.61 L470.70,310.59 L470.95,310.44 L471.20,310.83 L471.45,310.75 L471.70,309.60 L471.95,308.32 L472.20,303.77 L472.45,299.85 L472.50,299.65 L472.70,302.29 L472.95,307.27 L473.20,309.16 L473.45,310.13 L473.70,310.52 L473.95,310.07 L474.20,310.69 L474.45,310.51 L474.70,310.92 L474.95,310.42 L475.20,310.15 L475.45,310.87 L475.70,310.96 L475.95,310.69 L476.20,311.20 L476.45,310.80 L476.70,310.68 L476.95,311.06 L477.20,310.34 L477.45,310.64 L477.70,310.85 L477.95,311.12 L478.20,310.67 L478.45,310.52 L478.70,309.44 L478.95,308.99 L479.00,308.85 L479.20,309.87 L479.45,309.93 L479.70,311.47 L479.95,310.57 L480.20,310.86 L480.45,310.93 L480.70,311.24 L480.95,310.45 L481.20,310.15 L481.45,311.09 L481.70,311.15 L481.95,311.07 L482.20,311.76 L482.45,310.88 L482.70,310.86 L482.95,311.05 L483.20,310.79 L483.45,311.15 L483.70,310.00 L483.95,310.09 L484.20,308.68 L484.45,309.47 L484.70,307.01 L484.95,301.41 L485.20,290.64 L485.40,284.25 L485.45,284.67 L485.70,294.60 L485.95,304.01 L486.20,307.95 L486.45,309.30 L486.70,310.24 L486.95,310.30 L487.20,310.47 L487.45,310.49 L487.70,310.94 L487.95,310.83 L488.20,310.62 L488.45,310.90 L488.70,310.60 L488.95,310.20 L489.20,311.04 L489.45,310.56 L489.70,309.84 L489.95,310.09 L490.20,308.45 L490.45,303.69 L490.70,297.23 L490.90,292.85 L490.95,293.25 L491.20,300.20 L491.45,306.36 L491.70,308.96 L491.95,309.31 L492.20,310.50 L492.45,310.30 L492.70,310.23 L492.95,310.43 L493.20,310.24 L493.45,310.26 L493.70,309.52 L493.95,308.74 L494.20,305.15 L494.45,298.42 L494.70,289.03 L494.80,287.35 L494.95,290.75 L495.20,300.01 L495.45,306.10 L495.70,308.37 L495.95,306.62 L496.20,302.28 L496.45,294.76 L496.60,291.85 L496.70,293.05 L496.95,301.36 L497.20,306.60 L497.45,309.23 L497.70,309.88 L497.95,310.25 L498.20,310.76 L498.45,311.27 L498.70,310.20 L498.95,310.15 L499.20,310.29 L499.45,308.99 L499.70,307.10 L499.95,301.99 L500.20,297.85 L500.20,297.85 L500.45,301.73 L500.70,307.20 L500.95,308.95 L501.20,310.56 L501.45,310.06 L501.70,310.51 L501.95,310.66 L502.20,310.77 L502.45,311.26 L502.70,311.01 L502.95,310.86 L503.20,311.18 L503.45,311.51 L503.70,310.84 L503.95,310.55 L504.20,309.87 L504.45,308.49 L504.50,308.35 L504.70,308.50 L504.95,311.01 L505.20,311.56 L505.45,310.31 L505.70,311.07 L505.95,311.27 L506.20,311.49 L506.45,311.41 L506.70,311.09 L506.95,310.83 L507.20,311.24 L507.45,311.56 L507.70,310.82 L507.95,310.83 L508.20,311.15 L508.45,310.36 L508.70,310.67 L508.95,310.31 L509.00,310.45 L509.20,310.78 L509.45,310.72 L509.70,310.84 L509.95,311.07 L510.20,311.22 L510.45,311.02 L510.70,311.26 L510.95,311.53 L511.20,311.68 L511.45,311.87 L511.70,311.00 L511.95,311.13 L512.20,310.41 L512.45,311.94 L512.70,311.03 L512.95,311.27 L513.20,311.46 L513.45,310.80 L513.70,311.44 L513.95,311.26 L514.20,310.61 L514.45,311.33 L514.70,311.58 L514.95,310.28 L515.20,310.70 L515.45,309.95 L515.50,309.85 L515.70,310.33 L515.95,310.93 L516.20,311.56 L516.45,311.14 L516.70,311.56 L516.95,311.13 L517.20,311.54 L517.45,311.01 L517.70,311.26 L517.95,311.91 L518.20,311.46 L518.45,311.25 L518.70,310.90 L518.95,311.02 L519.20,311.36 L519.45,311.61 L519.70,311.42 L519.95,311.44 L520.20,311.21 L520.45,311.64 L520.70,310.91 L520.95,310.48 L521.20,309.93 L521.45,307.97 L521.60,307.45 L521.70,307.59 L521.95,309.10 L522.20,310.43 L522.45,311.20 L522.70,311.25 L522.95,310.75 L523.20,311.34 L523.45,311.22 L523.70,310.68 L523.95,310.86 L524.20,309.67 L524.40,309.35 L524.45,309.27 L524.70,310.41 L524.95,311.30 L525.20,310.90 L525.45,311.39 L525.70,310.97 L525.95,312.10 L526.20,311.12 L526.45,311.70 L526.70,311.02 L526.95,311.39 L527.20,311.47 L527.45,309.15 L527.60,309.85 L527.70,309.79 L527.95,310.76 L528.20,311.03 L528.45,311.02 L528.70,312.07 L528.95,311.37 L529.20,310.78 L529.45,311.67 L529.70,310.77 L529.95,311.78 L530.20,311.18 L530.45,311.44 L530.70,311.83 L530.95,311.43 L531.20,310.90 L531.45,310.80 L531.70,311.80 L531.95,311.64 L532.20,311.09 L532.45,311.67 L532.70,311.53 L532.95,311.56 L533.20,310.51 L533.45,311.12 L533.70,311.37 L533.95,310.77 L534.20,309.55 L534.45,307.05 L534.50,307.85 L534.70,308.66 L534.95,310.27 L535.20,311.80 L535.45,310.84 L535.70,311.14 L535.95,311.31 L536.20,311.62 L536.45,311.14 L536.70,311.65 L536.95,310.83 L537.20,310.72 L537.45,309.44 L537.70,308.85 L537.70,308.85 L537.95,309.69 L538.20,310.41 L538.45,310.58 L538.70,311.68 L538.95,311.47 L539.20,311.20 L539.45,311.48 L539.70,311.77 L539.95,311.10 L540.20,311.41 L540.45,311.64 L540.70,311.64 L540.95,311.35" fill="none" stroke="#0d1530" stroke-width="1.6" stroke-linejoin="round"/>
 <path d="M300.00,321.50 L300.30,321.50 L300.60,321.50 L300.90,321.50 L301.20,321.50 L301.50,321.50 L301.80,321.50 L302.10,321.50 L302.40,321.50 L302.70,321.50 L303.00,321.50 L303.30,321.50 L303.60,321.50 L303.90,321.50 L304.20,321.50 L304.50,321.50 L304.80,321.50 L305.10,321.50 L305.40,321.50 L305.70,321.50 L306.00,321.50 L306.30,321.50 L306.60,321.50 L306.90,321.50 L307.20,321.50 L307.50,321.50 L307.80,321.50 L308.10,321.50 L308.40,321.50 L308.70,321.50 L309.00,321.50 L309.30,321.50 L309.60,321.50 L309.90,321.50 L310.20,321.50 L310.50,321.50 L310.80,321.50 L311.10,321.50 L311.40,321.50 L311.70,321.50 L312.00,321.50 L312.30,321.50 L312.60,321.50 L312.90,321.50 L313.20,321.45 L313.50,319.64 L313.80,315.10 L313.80,315.10 L314.10,319.64 L314.40,321.45 L314.70,321.50 L315.00,321.50 L315.30,321.50 L315.60,321.50 L315.90,321.50 L316.20,321.50 L316.50,321.50 L316.80,321.50 L317.10,321.50 L317.40,321.50 L317.70,321.50 L318.00,321.50 L318.30,321.50 L318.60,321.49 L318.90,321.06 L319.20,320.00 L319.20,320.00 L319.50,321.06 L319.80,321.49 L320.10,321.50 L320.40,321.50 L320.70,321.50 L321.00,321.50 L321.30,321.50 L321.60,321.50 L321.90,321.22 L322.20,316.53 L322.40,312.90 L322.50,314.00 L322.80,320.54 L323.10,321.49 L323.40,321.50 L323.70,321.50 L324.00,321.50 L324.30,321.50 L324.60,321.50 L324.90,321.50 L325.20,321.50 L325.50,321.50 L325.80,321.50 L326.10,321.50 L326.40,321.50 L326.70,321.50 L327.00,321.50 L327.30,321.50 L327.60,321.50 L327.90,321.50 L328.20,321.50 L328.50,321.50 L328.80,321.50 L329.10,321.50 L329.40,321.50 L329.70,321.50 L330.00,321.50 L330.30,321.49 L330.60,321.06 L330.90,320.00 L330.90,320.00 L331.20,321.06 L331.50,321.49 L331.80,321.50 L332.10,321.50 L332.40,321.50 L332.70,321.50 L333.00,321.50 L333.30,321.50 L333.60,321.50 L333.90,321.50 L334.20,321.50 L334.50,321.50 L334.80,321.50 L335.10,321.50 L335.40,321.13 L335.70,306.46 L336.00,269.80 L336.00,269.80 L336.30,306.46 L336.60,321.13 L336.90,321.50 L337.20,321.50 L337.50,321.50 L337.80,321.50 L338.10,321.50 L338.40,321.50 L338.70,321.50 L339.00,321.50 L339.30,321.50 L339.60,321.50 L339.90,321.50 L340.20,321.50 L340.50,321.50 L340.80,321.50 L341.10,321.50 L341.40,321.50 L341.70,321.50 L342.00,321.50 L342.30,321.50 L342.60,321.50 L342.90,321.50 L343.20,321.50 L343.50,321.50 L343.80,321.50 L344.10,321.50 L344.40,321.50 L344.70,321.50 L345.00,321.50 L345.30,321.50 L345.60,321.27 L345.90,317.40 L346.10,314.40 L346.20,315.31 L346.50,320.71 L346.80,321.49 L347.10,321.33 L347.40,320.19 L347.50,320.00 L347.70,320.63 L348.00,321.45 L348.30,321.50 L348.60,321.50 L348.90,321.50 L349.20,321.50 L349.50,321.50 L349.80,321.50 L350.10,321.50 L350.40,321.50 L350.70,321.50 L351.00,321.50 L351.30,321.50 L351.60,321.50 L351.90,321.50 L352.20,321.50 L352.50,321.50 L352.80,321.50 L353.10,321.50 L353.40,321.50 L353.70,321.50 L354.00,321.50 L354.30,321.50 L354.60,321.50 L354.90,321.42 L355.20,313.69 L355.50,260.39 L355.60,251.40 L355.80,281.00 L356.10,319.23 L356.40,321.49 L356.70,321.50 L357.00,321.50 L357.30,321.50 L357.60,321.50 L357.90,321.50 L358.20,321.50 L358.50,321.50 L358.80,321.50 L359.10,321.44 L359.40,320.46 L359.60,319.70 L359.70,319.93 L360.00,321.30 L360.30,321.50 L360.60,321.50 L360.90,321.50 L361.20,321.50 L361.50,321.50 L361.80,321.50 L362.10,321.50 L362.40,321.50 L362.70,321.50 L363.00,321.50 L363.30,321.50 L363.60,321.42 L363.90,318.33 L364.20,310.60 L364.20,310.60 L364.50,318.33 L364.80,321.42 L365.10,321.50 L365.40,321.50 L365.70,321.50 L366.00,321.49 L366.30,319.96 L366.60,294.06 L366.80,274.00 L366.90,280.09 L367.20,316.21 L367.50,321.44 L367.80,321.50 L368.10,321.50 L368.40,321.50 L368.70,321.50 L369.00,321.50 L369.30,321.50 L369.60,321.50 L369.90,321.50 L370.20,321.15 L370.50,315.20 L370.70,310.60 L370.80,312.00 L371.10,320.29 L371.40,321.40 L371.70,317.98 L372.00,309.40 L372.00,309.40 L372.30,317.98 L372.60,321.41 L372.90,321.50 L373.20,321.50 L373.50,321.50 L373.80,321.42 L374.10,314.54 L374.40,267.01 L374.50,259.00 L374.70,285.39 L375.00,319.47 L375.30,321.49 L375.60,321.50 L375.90,321.50 L376.20,321.50 L376.50,321.50 L376.80,321.50 L377.10,321.50 L377.40,321.50 L377.70,321.50 L378.00,321.50 L378.30,321.44 L378.60,320.46 L378.80,319.70 L378.90,319.93 L379.20,321.30 L379.50,321.50 L379.80,321.50 L380.10,321.50 L380.40,321.50 L380.70,321.50 L381.00,321.50 L381.30,321.50 L381.60,321.50 L381.90,321.20 L382.20,309.31 L382.50,279.60 L382.50,279.60 L382.80,309.31 L383.10,321.20 L383.40,321.50 L383.70,321.50 L384.00,321.50 L384.30,321.50 L384.60,321.50 L384.90,321.50 L385.20,321.50 L385.50,321.50 L385.80,321.50 L386.10,321.50 L386.40,321.50 L386.70,321.25 L387.00,311.23 L387.30,286.20 L387.30,286.20 L387.60,311.23 L387.90,321.25 L388.20,321.09 L388.50,314.16 L388.70,308.80 L388.80,310.43 L389.10,320.09 L389.40,321.48 L389.70,321.33 L390.00,314.66 L390.30,298.00 L390.30,298.00 L390.60,314.66 L390.90,321.33 L391.20,321.50 L391.50,321.50 L391.80,320.70 L392.10,307.23 L392.30,296.80 L392.40,299.97 L392.70,318.75 L393.00,320.79 L393.30,309.31 L393.50,300.40 L393.60,303.10 L393.90,319.15 L394.20,321.47 L394.50,321.50 L394.80,321.50 L395.10,321.50 L395.40,321.50 L395.70,321.50 L396.00,321.50 L396.30,321.44 L396.60,319.11 L396.90,313.30 L396.90,313.30 L397.20,319.11 L397.50,321.44 L397.80,321.22 L398.10,316.59 L398.30,313.00 L398.40,314.09 L398.70,320.55 L399.00,321.49 L399.30,321.50 L399.60,321.50 L399.90,321.50 L400.20,321.50 L400.50,321.50 L400.80,321.50 L401.10,321.50 L401.40,321.50 L401.70,321.50 L402.00,321.50 L402.30,321.50 L402.60,321.50 L402.90,321.50 L403.20,321.50 L403.50,321.50 L403.80,321.48 L404.10,319.39 L404.40,305.02 L404.50,302.60 L404.70,310.58 L405.00,320.89 L405.30,321.48 L405.60,321.46 L405.90,321.35 L406.20,317.52 L406.50,308.00 L406.50,308.00 L406.80,317.50 L407.10,321.28 L407.40,321.36 L407.70,321.34 L408.00,321.32 L408.30,321.30 L408.60,321.28 L408.90,321.27 L409.20,321.25 L409.50,320.64 L409.80,310.69 L410.00,303.00 L410.10,305.33 L410.40,319.15 L410.70,321.14 L411.00,321.14 L411.30,321.11 L411.60,319.98 L411.90,312.29 L412.00,311.00 L412.20,315.25 L412.50,320.72 L412.80,321.03 L413.10,321.01 L413.40,321.00 L413.70,320.98 L414.00,320.96 L414.30,320.94 L414.60,320.38 L414.90,316.63 L415.00,316.00 L415.20,318.06 L415.50,320.72 L415.80,320.90 L416.10,320.82 L416.40,320.86 L416.70,320.84 L417.00,320.85 L417.30,320.79 L417.60,320.81 L417.90,320.69 L418.20,320.73 L418.50,320.73 L418.80,320.64 L419.10,320.74 L419.40,320.68 L419.70,319.89 L420.00,318.18 L420.00,318.17 L420.30,319.79 L420.60,320.61 L420.90,320.61 L421.20,320.80 L421.50,320.76 L421.80,320.64 L422.10,320.59 L422.40,320.31 L422.70,320.87 L423.00,320.65 L423.30,320.36 L423.60,320.55 L423.90,320.24 L424.20,320.77 L424.50,320.26 L424.80,320.53 L425.10,320.40 L425.40,320.85 L425.70,320.52 L426.00,320.12 L426.30,320.17 L426.60,320.32 L426.90,320.46 L427.20,320.86 L427.50,319.87 L427.80,315.78 L428.00,312.07 L428.10,313.22 L428.40,319.53 L428.70,319.84 L429.00,320.74 L429.30,319.69 L429.60,320.79 L429.90,319.63 L430.20,320.12 L430.50,320.29 L430.80,319.60 L431.10,320.17 L431.40,320.17 L431.70,320.81 L432.00,319.71 L432.30,319.93 L432.60,320.53 L432.90,320.72 L433.20,320.23 L433.50,319.38 L433.80,319.46 L434.10,320.12 L434.40,320.84 L434.70,319.46 L435.00,320.54 L435.30,319.59 L435.60,319.99 L435.90,319.13 L436.20,320.62 L436.50,319.32 L436.80,318.13 L437.00,318.47 L437.10,317.71 L437.40,320.05 L437.70,319.51 L438.00,318.95 L438.30,319.53 L438.60,319.87 L438.90,319.63 L439.20,320.37 L439.50,319.89 L439.80,320.65 L440.10,319.17 L440.40,320.72 L440.70,318.65 L441.00,317.07 L441.00,316.15 L441.30,319.77 L441.60,320.81 L441.90,319.40 L442.20,319.17 L442.50,318.77 L442.80,319.27 L443.10,318.51 L443.40,320.56 L443.70,319.39 L444.00,319.37 L444.30,320.48 L444.60,320.56 L444.90,320.32 L445.20,319.03 L445.50,307.98 L445.70,300.09 L445.80,302.88 L446.10,318.59 L446.40,319.14 L446.70,319.67 L447.00,320.49 L447.30,319.42 L447.60,320.31 L447.90,319.09 L448.20,300.69 L448.40,286.00 L448.50,291.79 L448.80,316.15 L449.10,320.30 L449.40,319.29 L449.70,318.92 L450.00,318.27 L450.30,303.57 L450.40,301.89 L450.60,310.04 L450.90,319.66 L451.20,319.61 L451.50,318.96 L451.80,319.46 L452.10,320.90 L452.40,319.02 L452.70,319.51 L453.00,319.89 L453.30,320.32 L453.60,319.84 L453.90,319.24 L454.20,320.25 L454.50,320.33 L454.80,308.96 L455.10,286.04 L455.10,286.93 L455.40,308.93 L455.70,320.39 L456.00,319.87 L456.30,313.04 L456.60,297.41 L456.60,296.84 L456.90,314.11 L457.20,319.36 L457.50,316.91 L457.80,305.04 L457.90,302.28 L458.10,310.02 L458.40,318.63 L458.70,318.60 L459.00,320.03 L459.30,316.83 L459.60,312.17 L459.60,310.87 L459.90,316.77 L460.20,318.78 L460.50,318.80 L460.80,319.47 L461.10,318.62 L461.40,320.53 L461.70,319.52 L462.00,320.63 L462.30,317.83 L462.50,316.35 L462.60,317.69 L462.90,318.63 L463.20,319.89 L463.50,320.43 L463.80,320.44 L464.10,319.51 L464.40,319.98 L464.70,320.79 L465.00,320.17 L465.30,318.56 L465.60,319.77 L465.90,319.26 L466.20,319.88 L466.50,320.73 L466.80,319.43 L467.10,320.39 L467.40,320.43 L467.70,316.18 L467.90,313.68 L468.00,315.99 L468.30,318.01 L468.60,320.84 L468.90,320.50 L469.20,320.11 L469.50,318.99 L469.80,319.12 L470.10,319.12 L470.40,319.87 L470.70,318.71 L471.00,320.58 L471.30,318.59 L471.60,320.77 L471.90,319.45 L472.20,310.64 L472.30,309.35 L472.50,313.68 L472.80,319.99 L473.10,318.82 L473.40,319.66 L473.70,320.40 L474.00,320.67 L474.30,318.53 L474.60,320.77 L474.90,320.37 L475.20,320.04 L475.50,318.76 L475.80,318.91 L476.10,318.88 L476.40,319.39 L476.70,320.87 L477.00,319.13 L477.30,320.44 L477.60,318.63 L477.90,318.57 L478.20,320.74 L478.50,319.14 L478.80,320.32 L479.10,320.65 L479.40,318.80 L479.70,319.84 L480.00,320.19 L480.30,319.56 L480.60,320.75 L480.90,319.88 L481.20,319.25 L481.50,317.15 L481.70,317.71 L481.80,316.23 L482.10,320.32 L482.40,320.40 L482.70,320.10 L483.00,320.49 L483.30,320.68 L483.60,319.33 L483.90,319.94 L484.20,320.44 L484.50,319.66 L484.80,320.58 L485.10,317.29 L485.40,303.15 L485.50,302.08 L485.70,309.66 L486.00,319.37 L486.30,319.77 L486.60,315.52 L486.80,312.87 L486.90,313.56 L487.20,318.40 L487.50,319.74 L487.80,320.70 L488.10,318.92 L488.40,313.28 L488.40,314.45 L488.70,317.28 L489.00,319.38 L489.30,319.40 L489.60,320.05 L489.90,319.51 L490.20,319.90 L490.50,319.55 L490.80,314.27 L491.10,305.64 L491.10,305.39 L491.40,314.37 L491.70,318.57 L492.00,318.95 L492.30,318.83 L492.60,320.45 L492.90,315.54 L493.10,314.30 L493.20,313.37 L493.50,319.25 L493.80,319.72 L494.10,319.65 L494.40,319.93 L494.70,310.99 L494.90,304.03 L495.00,306.92 L495.30,318.20 L495.60,319.91 L495.90,316.86 L496.20,307.92 L496.20,306.59 L496.50,315.01 L496.80,319.91 L497.10,320.21 L497.40,320.09 L497.70,318.83 L498.00,320.09 L498.30,317.23 L498.50,314.54 L498.60,315.81 L498.90,319.92 L499.20,320.34 L499.50,319.32 L499.80,317.52 L500.10,311.30 L500.20,309.90 L500.40,313.54 L500.70,320.49 L501.00,320.68 L501.30,319.52 L501.60,319.78 L501.90,320.06 L502.20,319.90 L502.50,320.85 L502.80,320.28 L503.10,320.47 L503.40,320.33 L503.70,320.73 L504.00,318.94 L504.30,320.86 L504.60,319.91 L504.90,320.49 L505.20,320.41 L505.50,319.08 L505.80,318.59 L506.10,318.58 L506.40,320.11 L506.70,319.60 L507.00,319.86 L507.30,320.71 L507.60,319.88 L507.90,319.43 L508.20,319.94 L508.50,319.01 L508.80,319.51 L509.10,317.67 L509.20,315.85 L509.40,317.86 L509.70,320.19 L510.00,318.73 L510.30,319.75 L510.60,319.45 L510.90,319.78 L511.20,318.84 L511.50,319.14 L511.80,319.84 L512.10,320.02 L512.40,319.05 L512.70,318.89 L513.00,319.45 L513.30,318.81 L513.60,319.63 L513.90,319.90 L514.20,320.14 L514.50,320.25 L514.80,320.53 L515.10,318.68 L515.40,319.57 L515.70,320.70 L516.00,320.40 L516.30,319.88 L516.60,318.97 L516.90,318.85 L517.20,319.08 L517.50,320.20 L517.80,319.87 L518.10,318.63 L518.40,319.97 L518.70,319.34 L519.00,320.78 L519.30,319.75 L519.60,319.68 L519.90,318.72 L520.20,318.59 L520.50,319.09 L520.80,320.10 L521.10,318.66 L521.40,316.05 L521.60,316.12 L521.70,315.87 L522.00,319.06 L522.30,320.16 L522.60,320.32 L522.90,319.02 L523.20,320.40 L523.50,319.57 L523.80,320.85 L524.10,319.79 L524.40,318.59 L524.70,320.89 L525.00,320.64 L525.30,318.74 L525.60,318.71 L525.90,319.69 L526.20,320.19 L526.50,320.18 L526.80,319.14 L527.10,319.51 L527.40,319.83 L527.70,319.24 L528.00,320.66 L528.30,319.97 L528.60,318.79 L528.90,318.71 L529.20,319.73 L529.50,319.02 L529.80,318.78 L530.10,319.65 L530.40,320.56 L530.70,320.65 L531.00,319.29 L531.30,320.08 L531.60,319.64 L531.90,320.80 L532.20,318.63 L532.50,320.23 L532.80,319.38 L533.10,319.41 L533.40,320.05 L533.70,320.40 L534.00,319.55 L534.30,320.11 L534.60,320.25 L534.90,316.82 L535.00,316.61 L535.20,316.32 L535.50,320.28 L535.80,318.69 L536.10,319.41 L536.40,318.60 L536.70,319.77 L537.00,320.29 L537.30,320.70 L537.60,319.41 L537.90,319.23 L538.20,319.27 L538.50,318.72 L538.80,320.66 L539.10,319.35 L539.40,319.21 L539.70,318.64 L540.00,320.30 L540.30,318.67 L540.60,320.84 L540.90,319.49" fill="none" stroke="#f23a46" stroke-width="1.55" stroke-linejoin="miter" stroke-miterlimit="2"/>
 <rect x="299.2" y="144.7" width="242.59999999999997" height="176.8" fill="none" stroke="#111" stroke-width="1.3"/>
 <g stroke="#111" stroke-width="1.2"><line x1="299.20" y1="321.50" x2="299.20" y2="325.10"/><line x1="316.53" y1="321.50" x2="316.53" y2="323.30"/><line x1="333.86" y1="321.50" x2="333.86" y2="325.10"/><line x1="351.19" y1="321.50" x2="351.19" y2="323.30"/><line x1="368.51" y1="321.50" x2="368.51" y2="325.10"/><line x1="385.84" y1="321.50" x2="385.84" y2="323.30"/><line x1="403.17" y1="321.50" x2="403.17" y2="325.10"/><line x1="420.50" y1="321.50" x2="420.50" y2="323.30"/><line x1="437.83" y1="321.50" x2="437.83" y2="325.10"/><line x1="455.16" y1="321.50" x2="455.16" y2="323.30"/><line x1="472.49" y1="321.50" x2="472.49" y2="325.10"/><line x1="489.81" y1="321.50" x2="489.81" y2="323.30"/><line x1="507.14" y1="321.50" x2="507.14" y2="325.10"/><line x1="524.47" y1="321.50" x2="524.47" y2="323.30"/><line x1="541.80" y1="321.50" x2="541.80" y2="325.10"/></g>
 <g font-size="10" font-weight="bold" fill="#111"><text x="299.20" y="336.00" text-anchor="middle">10</text><text x="333.86" y="336.00" text-anchor="middle">20</text><text x="368.51" y="336.00" text-anchor="middle">30</text><text x="403.17" y="336.00" text-anchor="middle">40</text><text x="437.83" y="336.00" text-anchor="middle">50</text><text x="472.49" y="336.00" text-anchor="middle">60</text><text x="507.14" y="336.00" text-anchor="middle">70</text><text x="541.80" y="336.00" text-anchor="middle">80</text></g>
 <text x="382.4" y="349.6" font-size="11.8" font-weight="bold" fill="#111" textLength="76" lengthAdjust="spacingAndGlyphs">2-Theta (deg.)</text>
 <text transform="translate(288.5,277.2) rotate(-90)" font-size="11.6" font-weight="bold" fill="#111" textLength="80.7" lengthAdjust="spacingAndGlyphs">Indensity (a.u.)</text>
 <text x="282.6" y="156.6" font-size="15" font-weight="bold" fill="#111">f</text>
 <path d="M355.60,157.60 C356.50,158.70 358.30,160.00 358.10,161.20 C357.90,162.20 356.40,162.20 355.60,161.40 C354.80,162.20 353.30,162.20 353.10,161.20 C352.90,160.00 354.70,158.70 355.60,157.60 Z" fill="#ff2a2a"/>
 <text x="361.6" y="163.3" font-size="8" font-weight="bold" fill="#111" textLength="28.4" lengthAdjust="spacing">(1 &#8722;2 0)</text>
 <path d="M382.70,234.00 C383.60,235.10 385.40,236.40 385.20,237.60 C385.00,238.60 383.50,238.60 382.70,237.80 C381.90,238.60 380.40,238.60 380.20,237.60 C380.00,236.40 381.80,235.10 382.70,234.00 Z" fill="#ff2a2a"/>
 <text x="387.8" y="239.0" font-size="8" font-weight="bold" fill="#111" textLength="23.8" lengthAdjust="spacing">(2 0 0)</text>
 <path d="M393.80,264.70 C394.70,265.80 396.50,267.10 396.30,268.30 C396.10,269.30 394.60,269.30 393.80,268.50 C393.00,269.30 391.50,269.30 391.30,268.30 C391.10,267.10 392.90,265.80 393.80,264.70 Z" fill="#ff2a2a"/>
 <text x="398.4" y="269.4" font-size="8" font-weight="bold" fill="#111" textLength="28.9" lengthAdjust="spacing">(0 2 &#8722;4)</text>
 <path d="M411.50,167.40 C412.40,168.50 414.20,169.80 414.00,171.00 C413.80,172.00 412.30,172.00 411.50,171.20 C410.70,172.00 409.20,172.00 409.00,171.00 C408.80,169.80 410.60,168.50 411.50,167.40 Z" fill="#ff2a2a"/>
 <line x1="381" y1="187" x2="402.6" y2="187" stroke="#0b1428" stroke-width="1.5"/>
 <g font-size="9.4" font-weight="bold" fill="#111">
  <text x="422.2" y="172.7" textLength="112.4" lengthAdjust="spacingAndGlyphs">JCPDS NO. 71-1428 Ti<tspan font-size="6.6" dy="2.2">4</tspan><tspan dy="-2.2">O</tspan><tspan font-size="6.6" dy="2.2">7</tspan></text>
  <text x="406" y="190.3" textLength="128.6" lengthAdjust="spacingAndGlyphs">Subatance calcined at 1173 K</text>
 </g>
</g>
</svg>
</body></html>
